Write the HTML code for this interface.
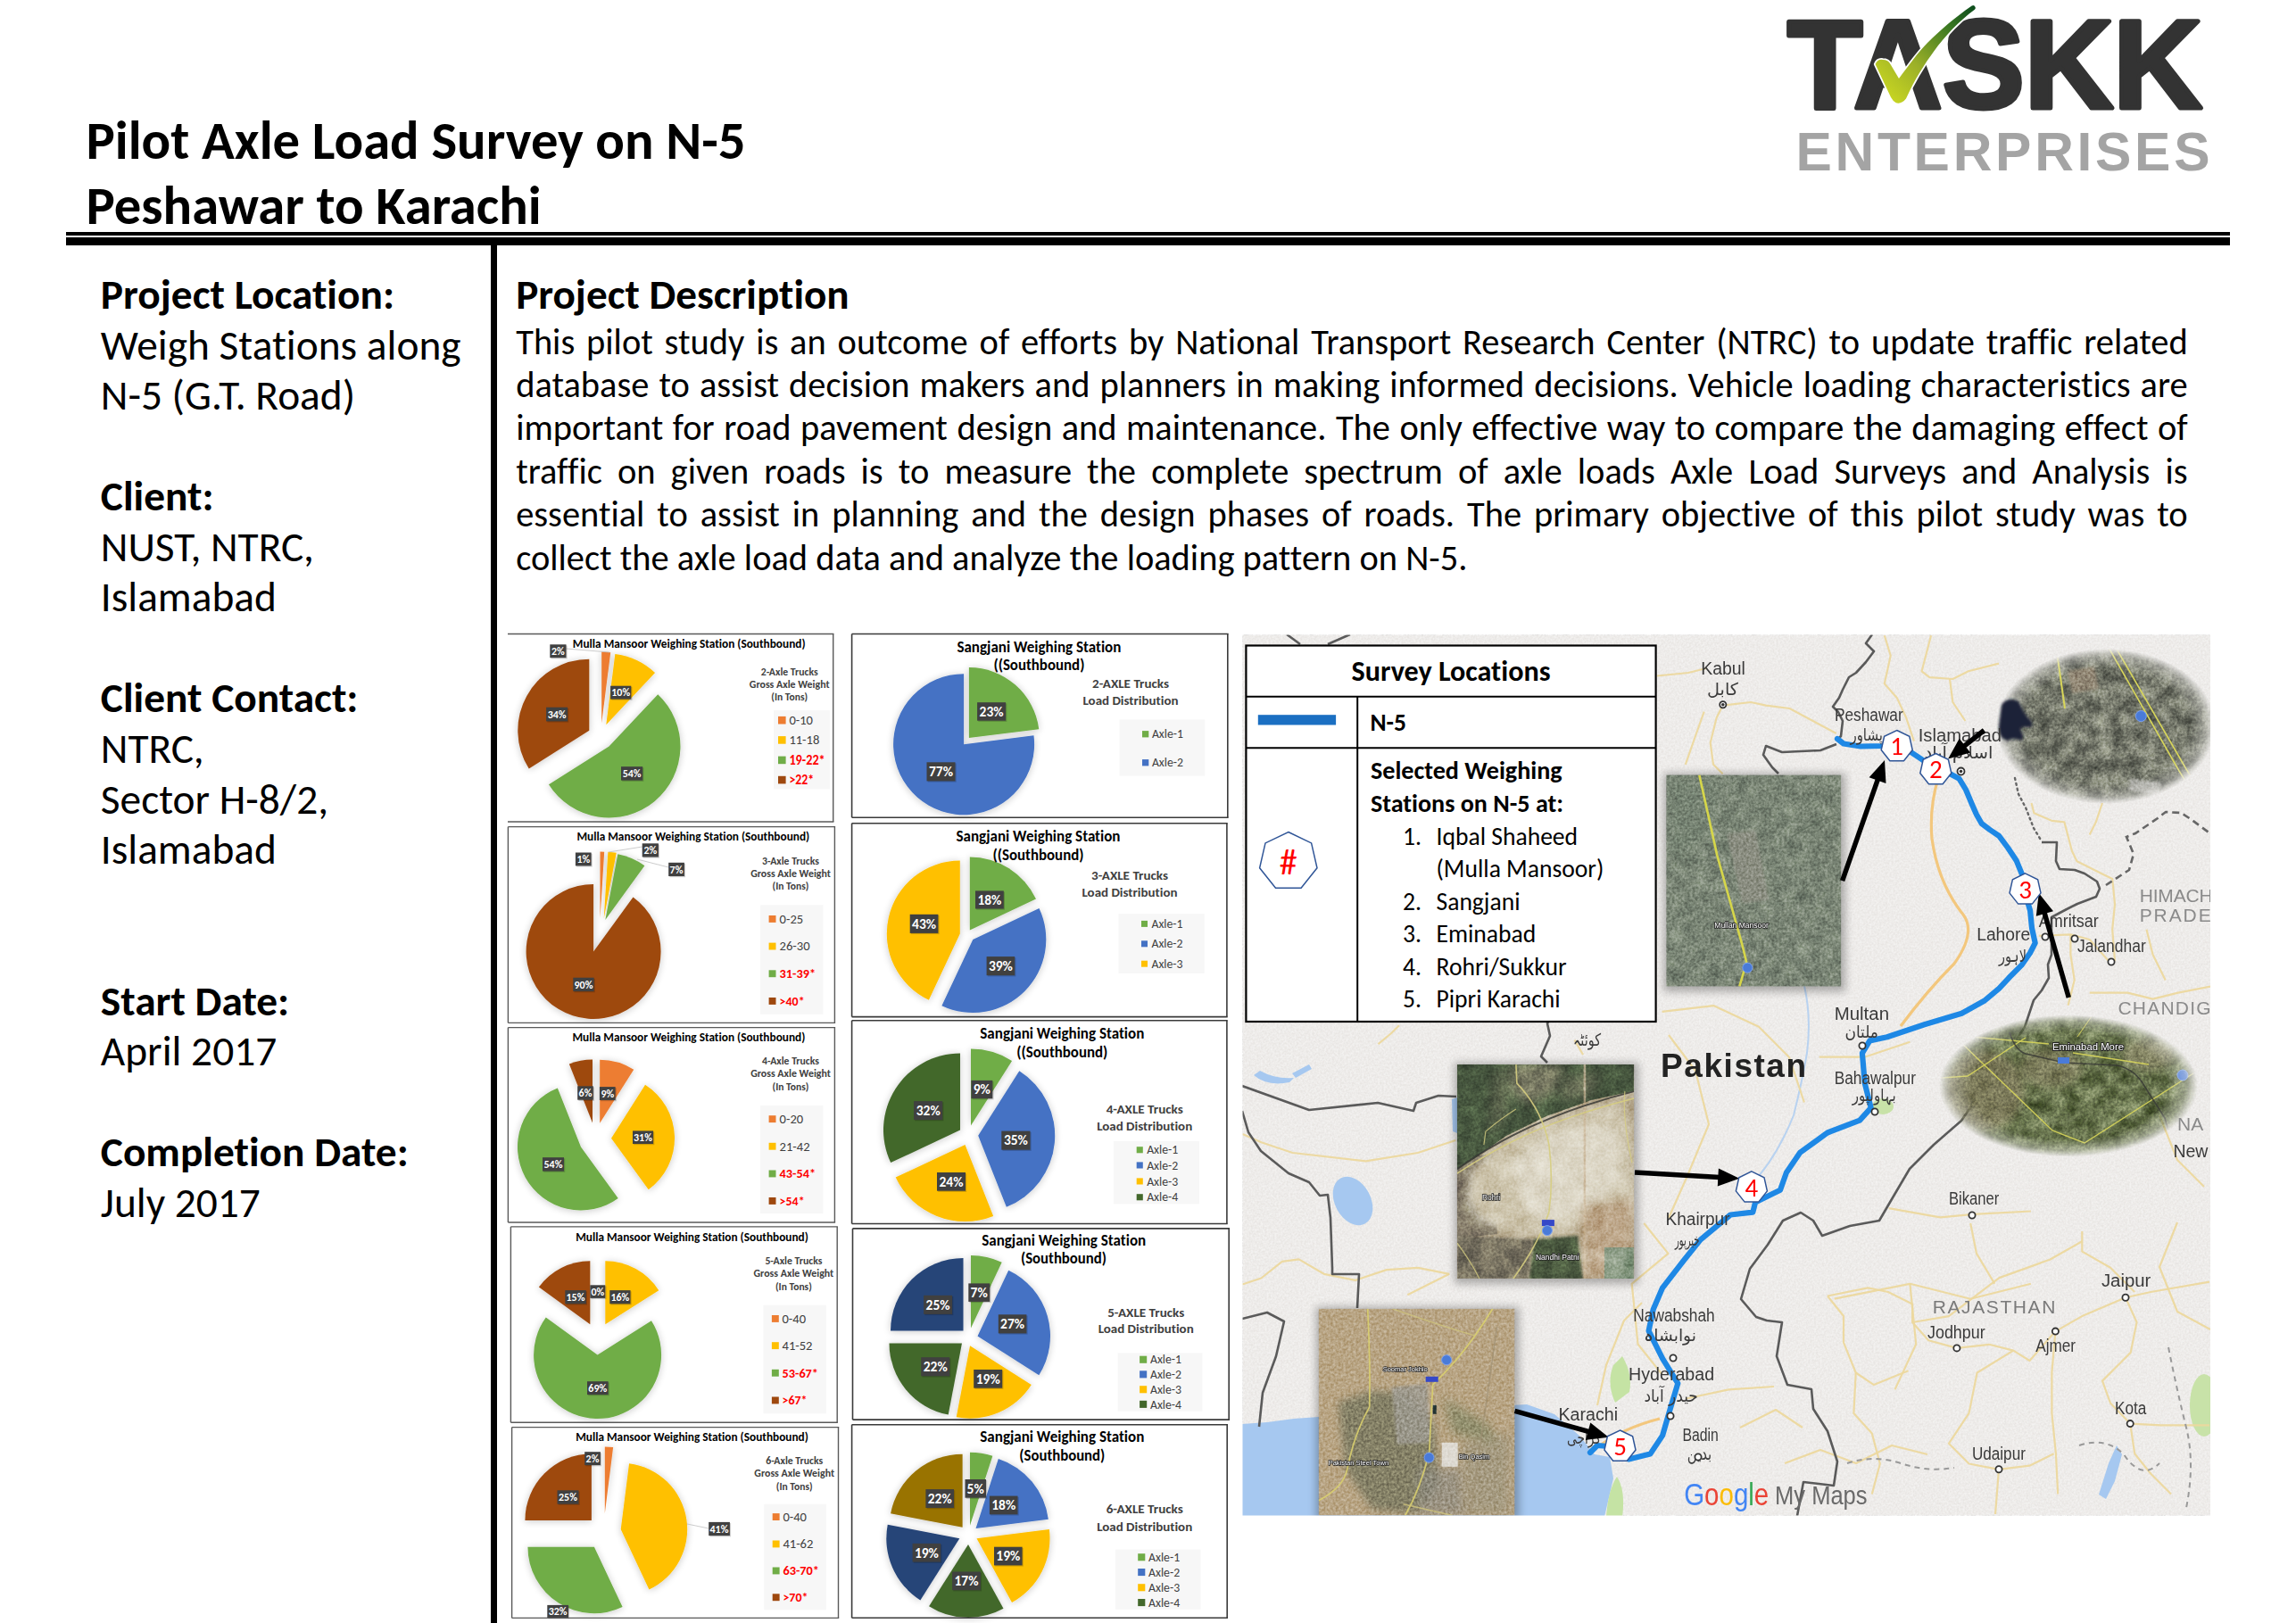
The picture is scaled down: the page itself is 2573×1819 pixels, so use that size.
<!DOCTYPE html><html><head><meta charset="utf-8"><title>Pilot Axle Load Survey on N-5</title>
<style>
html,body{margin:0;padding:0;background:#fff;}
body{width:2573px;height:1819px;position:relative;overflow:hidden;}
.t{position:absolute;white-space:nowrap;font-family:Carlito, 'Liberation Sans', sans-serif;line-height:1;color:#000;font-variant-ligatures:none;font-feature-settings:'liga' 0,'clig' 0;}
text{font-variant-ligatures:none;font-feature-settings:'liga' 0,'clig' 0;}
</style></head><body>
<svg width="2573" height="1819" viewBox="0 0 2573 1819" style="position:absolute;left:0;top:0">
<defs><filter id="pieSh" x="-20%" y="-20%" width="140%" height="140%"><feGaussianBlur in="SourceAlpha" stdDeviation="4"></feGaussianBlur><feOffset dx="0" dy="1"></feOffset><feComponentTransfer><feFuncA type="linear" slope="0.22"></feFuncA></feComponentTransfer><feMerge><feMergeNode></feMergeNode><feMergeNode in="SourceGraphic"></feMergeNode></feMerge></filter><filter id="blur6" x="-20%" y="-20%" width="140%" height="140%"><feGaussianBlur stdDeviation="5"></feGaussianBlur></filter><filter id="blur3" x="-20%" y="-20%" width="140%" height="140%"><feGaussianBlur stdDeviation="6"></feGaussianBlur></filter><filter id="fineN" x="0" y="0" width="100%" height="100%" color-interpolation-filters="sRGB"><feTurbulence type="fractalNoise" baseFrequency="0.35" numOctaves="2" seed="4"></feTurbulence><feColorMatrix type="matrix" values="1.6 0 0 0 -0.3  1.6 0 0 0 -0.3  1.6 0 0 0 -0.3  0 0 0 0 1"></feColorMatrix></filter><filter id="patchA" x="0" y="0" width="100%" height="100%" color-interpolation-filters="sRGB"><feTurbulence type="fractalNoise" baseFrequency="0.07" numOctaves="4" seed="7"></feTurbulence><feColorMatrix type="matrix" values="0.5 0 0 0 0.232  0.5 0 0 0 0.275  0.450 0 0 0 0.238  0 0 0 0 1"></feColorMatrix></filter><filter id="patchR" x="0" y="0" width="100%" height="100%" color-interpolation-filters="sRGB"><feTurbulence type="fractalNoise" baseFrequency="0.05" numOctaves="4" seed="13"></feTurbulence><feColorMatrix type="matrix" values="1.2 0 0 0 -0.098  1.2 0 0 0 -0.098  1.080 0 0 0 -0.038  0 0 0 0 1"></feColorMatrix></filter><filter id="patchB" x="0" y="0" width="100%" height="100%" color-interpolation-filters="sRGB"><feTurbulence type="fractalNoise" baseFrequency="0.06" numOctaves="4" seed="11"></feTurbulence><feColorMatrix type="matrix" values="0.7 0 0 0 0.113  0.7 0 0 0 0.125  0.630 0 0 0 0.109  0 0 0 0 1"></feColorMatrix></filter><filter id="patchC" x="0" y="0" width="100%" height="100%" color-interpolation-filters="sRGB"><feTurbulence type="fractalNoise" baseFrequency="0.06" numOctaves="4" seed="5"></feTurbulence><feColorMatrix type="matrix" values="0.65 0 0 0 0.083  0.65 0 0 0 0.130  0.585 0 0 0 0.013  0 0 0 0 1"></feColorMatrix></filter><filter id="blur1" x="-20%" y="-20%" width="140%" height="140%"><feGaussianBlur stdDeviation="1.5"></feGaussianBlur></filter><filter id="blur4" x="-20%" y="-20%" width="140%" height="140%"><feGaussianBlur stdDeviation="4"></feGaussianBlur></filter><filter id="bgN" x="0" y="0" width="100%" height="100%" color-interpolation-filters="sRGB"><feTurbulence type="fractalNoise" baseFrequency="0.45" numOctaves="2" seed="9"></feTurbulence><feColorMatrix type="matrix" values="1.8 0 0 0 -0.4  1.8 0 0 0 -0.4  1.8 0 0 0 -0.4  0 0 0 0 1"></feColorMatrix></filter><filter id="mapNoise" x="0" y="0" width="100%" height="100%"><feTurbulence type="fractalNoise" baseFrequency="0.6" numOctaves="1" seed="2"></feTurbulence><feColorMatrix type="matrix" values="0 0 0 0 1  0 0 0 0 1  0 0 0 0 1  0.6 0 0 0 -0.25"></feColorMatrix></filter></defs>
<rect x="74" y="260" width="2425" height="4" fill="#000"></rect>
<rect x="74" y="266" width="2425" height="9" fill="#000"></rect>
<rect x="550" y="270" width="7" height="1549" fill="#000"></rect>
<g>
<text x="2003" y="121" font-family="'Liberation Sans', Arial, sans-serif" font-size="140.3" font-weight="700" fill="#333" stroke="#333" stroke-width="5" stroke-linejoin="round" textLength="465" lengthAdjust="spacingAndGlyphs">TASKK</text>
<linearGradient id="chk" x1="0" y1="1" x2="1" y2="0"><stop offset="0" stop-color="#d4e020"></stop><stop offset="0.4" stop-color="#9cb028"></stop><stop offset="0.75" stop-color="#3d7a22"></stop><stop offset="1" stop-color="#0a4a1c"></stop></linearGradient>
<polygon points="2121,75.5 2136,75.5 2129,88" fill="#fff"></polygon>
<path d="M2101.6,72 Q2104,66 2110,67 Q2116,67 2118.5,72 L2128,88 C2140,72 2150,58 2160,48 C2175,33 2190,20 2209.7,6.4 Q2213,5 2213.8,8.5 Q2214,10 2212.9,10.8 C2195,24 2180,40 2166.5,58.4 C2158,70 2146,88 2136,110.5 Q2131,117 2124.8,115.3 Q2121,113 2119,109 Z" fill="url(#chk)" stroke="#fff" stroke-width="3.5" paint-order="stroke" stroke-linejoin="round"></path>
<text x="2012.5" y="191" font-family="'Liberation Sans', Arial, sans-serif" font-size="60.5" font-weight="700" fill="#a4a4a4" textLength="464" lengthAdjust="spacing">ENTERPRISES</text>
</g>
<rect x="569" y="710.5" width="364.70000000000005" height="210.5" fill="#fff"></rect>
<g filter="url(#pieSh)">
<path d="M674.20,810.50L674.20,730.50A80,80 0 0,1 684.23,731.13Z" fill="#ED7D31"></path>
<path d="M679.30,812.30L689.33,732.93A80,80 0 0,1 734.06,753.98Z" fill="#FFC000"></path>
<path d="M682.50,836.50L737.26,778.18A80,80 0 1,1 614.95,879.37Z" fill="#70AD47"></path>
<path d="M660.30,818.70L592.75,861.57A80,80 0 0,1 660.30,738.70Z" fill="#9E480E"></path>
</g>
<line x1="634.5" y1="727" x2="683" y2="731" stroke="#bfbfbf" stroke-width="0.8"></line>
<rect x="617.5" y="723.5" width="18.200000000000045" height="14.900000000000091" fill="#000" opacity="0.18"></rect>
<rect x="616.3" y="722.3" width="18.200000000000045" height="14.900000000000091" fill="#404040"></rect>
<text x="625.4" y="733.8" font-family="Carlito, 'Liberation Sans', sans-serif" font-size="12" font-weight="700" fill="#fff" text-anchor="middle" textLength="14.8" lengthAdjust="spacingAndGlyphs">2%</text>
<rect x="685.3000000000001" y="769.9000000000001" width="23.199999999999932" height="14.899999999999977" fill="#000" opacity="0.18"></rect>
<rect x="684.1" y="768.7" width="23.199999999999932" height="14.899999999999977" fill="#404040"></rect>
<text x="695.7" y="780.2" font-family="Carlito, 'Liberation Sans', sans-serif" font-size="12" font-weight="700" fill="#fff" text-anchor="middle" textLength="20.9" lengthAdjust="spacingAndGlyphs">10%</text>
<rect x="613.3000000000001" y="793.9000000000001" width="24.0" height="15.699999999999932" fill="#000" opacity="0.18"></rect>
<rect x="612.1" y="792.7" width="24.0" height="15.699999999999932" fill="#404040"></rect>
<text x="624.1" y="804.6" font-family="Carlito, 'Liberation Sans', sans-serif" font-size="12" font-weight="700" fill="#fff" text-anchor="middle" textLength="20.9" lengthAdjust="spacingAndGlyphs">34%</text>
<rect x="697.2" y="860.4000000000001" width="24.200000000000045" height="15.399999999999977" fill="#000" opacity="0.18"></rect>
<rect x="696" y="859.2" width="24.200000000000045" height="15.399999999999977" fill="#404040"></rect>
<text x="708.1" y="871.0" font-family="Carlito, 'Liberation Sans', sans-serif" font-size="12" font-weight="700" fill="#fff" text-anchor="middle" textLength="20.9" lengthAdjust="spacingAndGlyphs">54%</text>
<text x="772.2" y="726.1" font-family="Carlito, 'Liberation Sans', sans-serif" font-size="14.5" font-weight="700" fill="#000" text-anchor="middle" textLength="260.7" lengthAdjust="spacingAndGlyphs">Mulla Mansoor Weighing Station (Southbound)</text>
<text x="884.7" y="757.1" font-family="Carlito, 'Liberation Sans', sans-serif" font-size="12" font-weight="700" fill="#404040" text-anchor="middle" textLength="64.0" lengthAdjust="spacingAndGlyphs">2-Axle Trucks</text>
<text x="884.7" y="771.2" font-family="Carlito, 'Liberation Sans', sans-serif" font-size="12" font-weight="700" fill="#404040" text-anchor="middle" textLength="89.7" lengthAdjust="spacingAndGlyphs">Gross Axle Weight</text>
<text x="884.7" y="785.2" font-family="Carlito, 'Liberation Sans', sans-serif" font-size="12" font-weight="700" fill="#404040" text-anchor="middle" textLength="40.8" lengthAdjust="spacingAndGlyphs">(In Tons)</text>
<rect x="867" y="796" width="63" height="88.5" fill="#f7f7f7"></rect>
<rect x="872" y="802.9" width="8.600000000000023" height="8.600000000000023" fill="#ED7D31"></rect>
<text x="884.4" y="812.2" font-family="Carlito, 'Liberation Sans', sans-serif" font-size="15" fill="#404040" textLength="26.5" lengthAdjust="spacingAndGlyphs">0-10</text>
<rect x="872" y="825.1" width="8.600000000000023" height="8.600000000000023" fill="#FFC000"></rect>
<text x="884.4" y="834.4" font-family="Carlito, 'Liberation Sans', sans-serif" font-size="15" fill="#404040" textLength="33.9" lengthAdjust="spacingAndGlyphs">11-18</text>
<rect x="872" y="847.6" width="8.600000000000023" height="8.600000000000023" fill="#70AD47"></rect>
<text x="884.4" y="856.9" font-family="Carlito, 'Liberation Sans', sans-serif" font-size="15" font-weight="700" fill="#FF0000" textLength="40.3" lengthAdjust="spacingAndGlyphs">19-22*</text>
<rect x="872" y="869.8" width="8.600000000000023" height="8.600000000000023" fill="#9E480E"></rect>
<text x="884.4" y="879.1" font-family="Carlito, 'Liberation Sans', sans-serif" font-size="15" font-weight="700" fill="#FF0000" textLength="27.8" lengthAdjust="spacingAndGlyphs">&gt;22*</text>
<line x1="569" y1="710.5" x2="934.4000000000001" y2="710.5" stroke="#595959" stroke-width="1.4"></line>
<line x1="569" y1="921" x2="934.4000000000001" y2="921" stroke="#595959" stroke-width="1.4"></line>
<line x1="933.7" y1="710.5" x2="933.7" y2="921" stroke="#595959" stroke-width="1.4"></line>
<rect x="954.6" y="710.5" width="421.19999999999993" height="205.70000000000005" fill="#fff"></rect>
<g filter="url(#pieSh)">
<path d="M1085.90,827.10L1085.90,748.10A79,79 0 0,1 1164.28,817.20Z" fill="#70AD47"></path>
<path d="M1080.10,834.20L1158.48,824.30A79,79 0 1,1 1080.10,755.20Z" fill="#4472C4"></path>
</g>
<rect x="1096.3" y="788.4000000000001" width="32.0" height="20.5" fill="#000" opacity="0.18"></rect>
<rect x="1095.1" y="787.2" width="32.0" height="20.5" fill="#404040"></rect>
<text x="1111.1" y="802.7" font-family="Carlito, 'Liberation Sans', sans-serif" font-size="15.5" font-weight="700" fill="#fff" text-anchor="middle" textLength="27.0" lengthAdjust="spacingAndGlyphs">23%</text>
<rect x="1039.7" y="855.5" width="32.0" height="21.100000000000023" fill="#000" opacity="0.18"></rect>
<rect x="1038.5" y="854.3" width="32.0" height="21.100000000000023" fill="#404040"></rect>
<text x="1054.5" y="870.1" font-family="Carlito, 'Liberation Sans', sans-serif" font-size="15.5" font-weight="700" fill="#fff" text-anchor="middle" textLength="27.0" lengthAdjust="spacingAndGlyphs">77%</text>
<text x="1164.4" y="730.7" font-family="Carlito, 'Liberation Sans', sans-serif" font-size="17.5" font-weight="700" fill="#000" text-anchor="middle" textLength="184.0" lengthAdjust="spacingAndGlyphs">Sangjani Weighing Station</text>
<text x="1164.4" y="751.4" font-family="Carlito, 'Liberation Sans', sans-serif" font-size="17.5" font-weight="700" fill="#000" text-anchor="middle" textLength="102.0" lengthAdjust="spacingAndGlyphs">((Southbound)</text>
<text x="1267.0" y="771.3" font-family="Carlito, 'Liberation Sans', sans-serif" font-size="13.5" font-weight="700" fill="#404040" text-anchor="middle" textLength="86.0" lengthAdjust="spacingAndGlyphs">2-AXLE Trucks</text>
<text x="1267.0" y="789.7" font-family="Carlito, 'Liberation Sans', sans-serif" font-size="13.5" font-weight="700" fill="#404040" text-anchor="middle" textLength="107.0" lengthAdjust="spacingAndGlyphs">Load Distribution</text>
<rect x="1254.5" y="806.4" width="95.79999999999995" height="63.200000000000045" fill="#f7f7f7"></rect>
<rect x="1280" y="819.1" width="7.2999999999999545" height="7.2999999999999545" fill="#70AD47"></rect>
<text x="1290.9" y="827.3" font-family="Carlito, 'Liberation Sans', sans-serif" font-size="14" fill="#404040" textLength="35.0" lengthAdjust="spacingAndGlyphs">Axle-1</text>
<rect x="1280" y="851.1" width="7.2999999999999545" height="7.2999999999999545" fill="#4472C4"></rect>
<text x="1290.9" y="859.4" font-family="Carlito, 'Liberation Sans', sans-serif" font-size="14" fill="#404040" textLength="35.0" lengthAdjust="spacingAndGlyphs">Axle-2</text>
<line x1="954.6" y1="710.5" x2="1376.6" y2="710.5" stroke="#3a3a3a" stroke-width="1.6"></line>
<line x1="954.6" y1="916.2" x2="1376.6" y2="916.2" stroke="#3a3a3a" stroke-width="1.6"></line>
<line x1="954.6" y1="710.5" x2="954.6" y2="916.2" stroke="#3a3a3a" stroke-width="1.6"></line>
<line x1="1375.8" y1="710.5" x2="1375.8" y2="916.2" stroke="#3a3a3a" stroke-width="1.6"></line>
<rect x="569.4" y="926.6" width="366.0" height="219.80000000000007" fill="#fff"></rect>
<g filter="url(#pieSh)">
<path d="M672.50,1029.50L672.50,954.50A75,75 0 0,1 677.21,954.65Z" fill="#ED7D31"></path>
<path d="M676.70,1029.50L681.41,954.65A75,75 0 0,1 690.75,955.83Z" fill="#FFC000"></path>
<path d="M678.30,1031.00L692.35,957.33A75,75 0 0,1 722.38,970.32Z" fill="#70AD47"></path>
<path d="M665.10,1066.50L709.48,1005.42A75.5,75.5 0 1,1 665.10,991.00Z" fill="#9E480E"></path>
</g>
<line x1="719.7" y1="949" x2="682" y2="955" stroke="#bfbfbf" stroke-width="0.8"></line>
<line x1="749.2" y1="972" x2="714" y2="963" stroke="#bfbfbf" stroke-width="0.8"></line>
<rect x="646.1" y="956.7" width="17.700000000000045" height="14.899999999999977" fill="#000" opacity="0.18"></rect>
<rect x="644.9" y="955.5" width="17.700000000000045" height="14.899999999999977" fill="#404040"></rect>
<text x="653.8" y="967.0" font-family="Carlito, 'Liberation Sans', sans-serif" font-size="12" font-weight="700" fill="#fff" text-anchor="middle" textLength="14.8" lengthAdjust="spacingAndGlyphs">1%</text>
<rect x="720.9000000000001" y="946.5" width="18.199999999999932" height="15.200000000000045" fill="#000" opacity="0.18"></rect>
<rect x="719.7" y="945.3" width="18.199999999999932" height="15.200000000000045" fill="#404040"></rect>
<text x="728.8" y="957.0" font-family="Carlito, 'Liberation Sans', sans-serif" font-size="12" font-weight="700" fill="#fff" text-anchor="middle" textLength="14.8" lengthAdjust="spacingAndGlyphs">2%</text>
<rect x="750.4000000000001" y="968.0" width="17.699999999999932" height="15.200000000000045" fill="#000" opacity="0.18"></rect>
<rect x="749.2" y="966.8" width="17.699999999999932" height="15.200000000000045" fill="#404040"></rect>
<text x="758.0" y="978.5" font-family="Carlito, 'Liberation Sans', sans-serif" font-size="12" font-weight="700" fill="#fff" text-anchor="middle" textLength="14.8" lengthAdjust="spacingAndGlyphs">7%</text>
<rect x="643.5" y="1096.9" width="23.300000000000068" height="15.399999999999864" fill="#000" opacity="0.18"></rect>
<rect x="642.3" y="1095.7" width="23.300000000000068" height="15.399999999999864" fill="#404040"></rect>
<text x="654.0" y="1107.5" font-family="Carlito, 'Liberation Sans', sans-serif" font-size="12" font-weight="700" fill="#fff" text-anchor="middle" textLength="20.9" lengthAdjust="spacingAndGlyphs">90%</text>
<text x="776.8" y="941.8" font-family="Carlito, 'Liberation Sans', sans-serif" font-size="14.5" font-weight="700" fill="#000" text-anchor="middle" textLength="260.8" lengthAdjust="spacingAndGlyphs">Mulla Mansoor Weighing Station (Southbound)</text>
<text x="886.0" y="968.8" font-family="Carlito, 'Liberation Sans', sans-serif" font-size="12" font-weight="700" fill="#404040" text-anchor="middle" textLength="64.0" lengthAdjust="spacingAndGlyphs">3-Axle Trucks</text>
<text x="886.0" y="982.9" font-family="Carlito, 'Liberation Sans', sans-serif" font-size="12" font-weight="700" fill="#404040" text-anchor="middle" textLength="89.7" lengthAdjust="spacingAndGlyphs">Gross Axle Weight</text>
<text x="886.0" y="997.3" font-family="Carlito, 'Liberation Sans', sans-serif" font-size="12" font-weight="700" fill="#404040" text-anchor="middle" textLength="40.8" lengthAdjust="spacingAndGlyphs">(In Tons)</text>
<rect x="852.1" y="1014.3" width="70.39999999999998" height="122.5" fill="#f7f7f7"></rect>
<rect x="861.6" y="1026.0" width="7.899999999999977" height="7.899999999999977" fill="#ED7D31"></rect>
<text x="873.6" y="1034.8" font-family="Carlito, 'Liberation Sans', sans-serif" font-size="14.5" fill="#404040" textLength="26.5" lengthAdjust="spacingAndGlyphs">0-25</text>
<rect x="861.6" y="1056.6" width="7.899999999999977" height="7.899999999999977" fill="#FFC000"></rect>
<text x="873.6" y="1065.4" font-family="Carlito, 'Liberation Sans', sans-serif" font-size="14.5" fill="#404040" textLength="34.0" lengthAdjust="spacingAndGlyphs">26-30</text>
<rect x="861.6" y="1087.3" width="7.899999999999977" height="7.899999999999977" fill="#70AD47"></rect>
<text x="873.6" y="1096.1" font-family="Carlito, 'Liberation Sans', sans-serif" font-size="14.5" font-weight="700" fill="#FF0000" textLength="40.5" lengthAdjust="spacingAndGlyphs">31-39*</text>
<rect x="861.6" y="1118.0" width="7.899999999999977" height="7.899999999999977" fill="#9E480E"></rect>
<text x="873.6" y="1126.7" font-family="Carlito, 'Liberation Sans', sans-serif" font-size="14.5" font-weight="700" fill="#FF0000" textLength="28.0" lengthAdjust="spacingAndGlyphs">&gt;40*</text>
<line x1="569.4" y1="926.6" x2="936.1" y2="926.6" stroke="#595959" stroke-width="1.4"></line>
<line x1="569.4" y1="1146.4" x2="936.1" y2="1146.4" stroke="#595959" stroke-width="1.4"></line>
<line x1="569.4" y1="926.6" x2="569.4" y2="1146.4" stroke="#595959" stroke-width="1.4"></line>
<line x1="935.4" y1="926.6" x2="935.4" y2="1146.4" stroke="#595959" stroke-width="1.4"></line>
<rect x="954.6" y="922.7" width="420.30000000000007" height="216.89999999999986" fill="#fff"></rect>
<g filter="url(#pieSh)">
<path d="M1086.80,1042.40L1086.80,960.40A82,82 0 0,1 1161.00,1007.49Z" fill="#70AD47"></path>
<path d="M1090.30,1053.00L1164.50,1018.09A82,82 0 0,1 1055.39,1127.20Z" fill="#4472C4"></path>
<path d="M1075.80,1046.50L1040.89,1120.70A82,82 0 0,1 1075.80,964.50Z" fill="#FFC000"></path>
</g>
<rect x="1094.2" y="999.6" width="31.799999999999955" height="20.100000000000023" fill="#000" opacity="0.18"></rect>
<rect x="1093" y="998.4" width="31.799999999999955" height="20.100000000000023" fill="#404040"></rect>
<text x="1108.9" y="1013.7" font-family="Carlito, 'Liberation Sans', sans-serif" font-size="15.5" font-weight="700" fill="#fff" text-anchor="middle" textLength="27.0" lengthAdjust="spacingAndGlyphs">18%</text>
<rect x="1020.9000000000001" y="1026.0" width="31.700000000000045" height="21.100000000000136" fill="#000" opacity="0.18"></rect>
<rect x="1019.7" y="1024.8" width="31.700000000000045" height="21.100000000000136" fill="#404040"></rect>
<text x="1035.6" y="1040.6" font-family="Carlito, 'Liberation Sans', sans-serif" font-size="15.5" font-weight="700" fill="#fff" text-anchor="middle" textLength="27.0" lengthAdjust="spacingAndGlyphs">43%</text>
<rect x="1106.8" y="1073.3" width="31.600000000000136" height="21.100000000000136" fill="#000" opacity="0.18"></rect>
<rect x="1105.6" y="1072.1" width="31.600000000000136" height="21.100000000000136" fill="#404040"></rect>
<text x="1121.4" y="1087.9" font-family="Carlito, 'Liberation Sans', sans-serif" font-size="15.5" font-weight="700" fill="#fff" text-anchor="middle" textLength="27.0" lengthAdjust="spacingAndGlyphs">39%</text>
<text x="1163.5" y="943.2" font-family="Carlito, 'Liberation Sans', sans-serif" font-size="17.5" font-weight="700" fill="#000" text-anchor="middle" textLength="184.0" lengthAdjust="spacingAndGlyphs">Sangjani Weighing Station</text>
<text x="1163.5" y="963.9" font-family="Carlito, 'Liberation Sans', sans-serif" font-size="17.5" font-weight="700" fill="#000" text-anchor="middle" textLength="102.0" lengthAdjust="spacingAndGlyphs">((Southbound)</text>
<text x="1266.0" y="986.3" font-family="Carlito, 'Liberation Sans', sans-serif" font-size="13.5" font-weight="700" fill="#404040" text-anchor="middle" textLength="86.0" lengthAdjust="spacingAndGlyphs">3-AXLE Trucks</text>
<text x="1266.0" y="1004.5" font-family="Carlito, 'Liberation Sans', sans-serif" font-size="13.5" font-weight="700" fill="#404040" text-anchor="middle" textLength="107.0" lengthAdjust="spacingAndGlyphs">Load Distribution</text>
<rect x="1253.5" y="1024.2" width="96.20000000000005" height="66.70000000000005" fill="#f7f7f7"></rect>
<rect x="1279" y="1031.9" width="7" height="7" fill="#70AD47"></rect>
<text x="1290.5" y="1040.0" font-family="Carlito, 'Liberation Sans', sans-serif" font-size="14" fill="#404040" textLength="35.0" lengthAdjust="spacingAndGlyphs">Axle-1</text>
<rect x="1279" y="1054.3" width="7" height="7" fill="#4472C4"></rect>
<text x="1290.5" y="1062.4" font-family="Carlito, 'Liberation Sans', sans-serif" font-size="14" fill="#404040" textLength="35.0" lengthAdjust="spacingAndGlyphs">Axle-2</text>
<rect x="1279" y="1076.7" width="7" height="7" fill="#FFC000"></rect>
<text x="1290.5" y="1084.8" font-family="Carlito, 'Liberation Sans', sans-serif" font-size="14" fill="#404040" textLength="35.0" lengthAdjust="spacingAndGlyphs">Axle-3</text>
<line x1="954.6" y1="922.7" x2="1375.7" y2="922.7" stroke="#3a3a3a" stroke-width="1.6"></line>
<line x1="954.6" y1="1139.6" x2="1375.7" y2="1139.6" stroke="#3a3a3a" stroke-width="1.6"></line>
<line x1="954.6" y1="922.7" x2="954.6" y2="1139.6" stroke="#3a3a3a" stroke-width="1.6"></line>
<line x1="1374.9" y1="922.7" x2="1374.9" y2="1139.6" stroke="#3a3a3a" stroke-width="1.6"></line>
<rect x="569.4" y="1151.6" width="366.0" height="218.4000000000001" fill="#fff"></rect>
<g filter="url(#pieSh)">
<path d="M672.20,1258.70L672.20,1187.70A71,71 0 0,1 710.24,1198.75Z" fill="#ED7D31"></path>
<path d="M685.00,1275.80L723.04,1215.85A71,71 0 0,1 726.73,1333.24Z" fill="#FFC000"></path>
<path d="M651.00,1285.50L692.73,1342.94A71,71 0 1,1 624.86,1219.49Z" fill="#70AD47"></path>
<path d="M664.00,1258.50L637.86,1192.49A71,71 0 0,1 664.00,1187.50Z" fill="#9E480E"></path>
</g>
<rect x="648.4000000000001" y="1218.5" width="17.59999999999991" height="15.400000000000091" fill="#000" opacity="0.18"></rect>
<rect x="647.2" y="1217.3" width="17.59999999999991" height="15.400000000000091" fill="#404040"></rect>
<text x="656.0" y="1229.1" font-family="Carlito, 'Liberation Sans', sans-serif" font-size="12" font-weight="700" fill="#fff" text-anchor="middle" textLength="14.8" lengthAdjust="spacingAndGlyphs">6%</text>
<rect x="673.1" y="1219.3" width="17.700000000000045" height="14.900000000000091" fill="#000" opacity="0.18"></rect>
<rect x="671.9" y="1218.1" width="17.700000000000045" height="14.900000000000091" fill="#404040"></rect>
<text x="680.8" y="1229.6" font-family="Carlito, 'Liberation Sans', sans-serif" font-size="12" font-weight="700" fill="#fff" text-anchor="middle" textLength="14.8" lengthAdjust="spacingAndGlyphs">9%</text>
<rect x="710.2" y="1268.6000000000001" width="23.100000000000023" height="14.599999999999909" fill="#000" opacity="0.18"></rect>
<rect x="709" y="1267.4" width="23.100000000000023" height="14.599999999999909" fill="#404040"></rect>
<text x="720.5" y="1278.8" font-family="Carlito, 'Liberation Sans', sans-serif" font-size="12" font-weight="700" fill="#fff" text-anchor="middle" textLength="20.9" lengthAdjust="spacingAndGlyphs">31%</text>
<rect x="609.2" y="1298.4" width="24" height="15.399999999999864" fill="#000" opacity="0.18"></rect>
<rect x="608" y="1297.2" width="24" height="15.399999999999864" fill="#404040"></rect>
<text x="620.0" y="1309.0" font-family="Carlito, 'Liberation Sans', sans-serif" font-size="12" font-weight="700" fill="#fff" text-anchor="middle" textLength="20.9" lengthAdjust="spacingAndGlyphs">54%</text>
<text x="771.9" y="1166.8" font-family="Carlito, 'Liberation Sans', sans-serif" font-size="14.5" font-weight="700" fill="#000" text-anchor="middle" textLength="260.9" lengthAdjust="spacingAndGlyphs">Mulla Mansoor Weighing Station (Southbound)</text>
<text x="886.0" y="1193.3" font-family="Carlito, 'Liberation Sans', sans-serif" font-size="12" font-weight="700" fill="#404040" text-anchor="middle" textLength="64.0" lengthAdjust="spacingAndGlyphs">4-Axle Trucks</text>
<text x="886.0" y="1207.4" font-family="Carlito, 'Liberation Sans', sans-serif" font-size="12" font-weight="700" fill="#404040" text-anchor="middle" textLength="89.7" lengthAdjust="spacingAndGlyphs">Gross Axle Weight</text>
<text x="886.0" y="1221.8" font-family="Carlito, 'Liberation Sans', sans-serif" font-size="12" font-weight="700" fill="#404040" text-anchor="middle" textLength="40.8" lengthAdjust="spacingAndGlyphs">(In Tons)</text>
<rect x="852.1" y="1239" width="70.39999999999998" height="121.09999999999991" fill="#f7f7f7"></rect>
<rect x="861.6" y="1250.2" width="7.899999999999977" height="7.899999999999977" fill="#ED7D31"></rect>
<text x="873.6" y="1259.0" font-family="Carlito, 'Liberation Sans', sans-serif" font-size="14.5" fill="#404040" textLength="26.5" lengthAdjust="spacingAndGlyphs">0-20</text>
<rect x="861.6" y="1280.8" width="7.899999999999977" height="7.899999999999977" fill="#FFC000"></rect>
<text x="873.6" y="1289.6" font-family="Carlito, 'Liberation Sans', sans-serif" font-size="14.5" fill="#404040" textLength="34.0" lengthAdjust="spacingAndGlyphs">21-42</text>
<rect x="861.6" y="1311.5" width="7.899999999999977" height="7.899999999999977" fill="#70AD47"></rect>
<text x="873.6" y="1320.2" font-family="Carlito, 'Liberation Sans', sans-serif" font-size="14.5" font-weight="700" fill="#FF0000" textLength="40.5" lengthAdjust="spacingAndGlyphs">43-54*</text>
<rect x="861.6" y="1342.0" width="7.899999999999977" height="7.899999999999977" fill="#9E480E"></rect>
<text x="873.6" y="1350.8" font-family="Carlito, 'Liberation Sans', sans-serif" font-size="14.5" font-weight="700" fill="#FF0000" textLength="28.0" lengthAdjust="spacingAndGlyphs">&gt;54*</text>
<line x1="569.4" y1="1151.6" x2="936.1" y2="1151.6" stroke="#595959" stroke-width="1.4"></line>
<line x1="569.4" y1="1370" x2="936.1" y2="1370" stroke="#595959" stroke-width="1.4"></line>
<line x1="569.4" y1="1151.6" x2="569.4" y2="1370" stroke="#595959" stroke-width="1.4"></line>
<line x1="935.4" y1="1151.6" x2="935.4" y2="1370" stroke="#595959" stroke-width="1.4"></line>
<rect x="954.6" y="1143.8" width="420.30000000000007" height="227.70000000000005" fill="#fff"></rect>
<g filter="url(#pieSh)">
<path d="M1088.00,1261.50L1088.00,1175.50A86,86 0 0,1 1134.08,1188.89Z" fill="#70AD47"></path>
<path d="M1096.20,1272.80L1142.28,1200.19A86,86 0 0,1 1127.86,1352.76Z" fill="#4472C4"></path>
<path d="M1081.50,1283.00L1113.16,1362.96A86,86 0 0,1 1003.68,1319.62Z" fill="#FFC000"></path>
<path d="M1076.00,1266.50L998.18,1303.12A86,86 0 0,1 1076.00,1180.50Z" fill="#43682B"></path>
</g>
<rect x="1089.6000000000001" y="1212.1000000000001" width="23.899999999999864" height="20.299999999999955" fill="#000" opacity="0.18"></rect>
<rect x="1088.4" y="1210.9" width="23.899999999999864" height="20.299999999999955" fill="#404040"></rect>
<text x="1100.3" y="1226.3" font-family="Carlito, 'Liberation Sans', sans-serif" font-size="15.5" font-weight="700" fill="#fff" text-anchor="middle" textLength="19.2" lengthAdjust="spacingAndGlyphs">9%</text>
<rect x="1025.3" y="1235.3" width="32.100000000000136" height="21.0" fill="#000" opacity="0.18"></rect>
<rect x="1024.1" y="1234.1" width="32.100000000000136" height="21.0" fill="#404040"></rect>
<text x="1040.2" y="1249.9" font-family="Carlito, 'Liberation Sans', sans-serif" font-size="15.5" font-weight="700" fill="#fff" text-anchor="middle" textLength="27.0" lengthAdjust="spacingAndGlyphs">32%</text>
<rect x="1123.5" y="1268.8" width="32.200000000000045" height="21.100000000000136" fill="#000" opacity="0.18"></rect>
<rect x="1122.3" y="1267.6" width="32.200000000000045" height="21.100000000000136" fill="#404040"></rect>
<text x="1138.4" y="1283.4" font-family="Carlito, 'Liberation Sans', sans-serif" font-size="15.5" font-weight="700" fill="#fff" text-anchor="middle" textLength="27.0" lengthAdjust="spacingAndGlyphs">35%</text>
<rect x="1051.2" y="1315.2" width="32" height="20.700000000000045" fill="#000" opacity="0.18"></rect>
<rect x="1050" y="1314" width="32" height="20.700000000000045" fill="#404040"></rect>
<text x="1066.0" y="1329.6" font-family="Carlito, 'Liberation Sans', sans-serif" font-size="15.5" font-weight="700" fill="#fff" text-anchor="middle" textLength="27.0" lengthAdjust="spacingAndGlyphs">24%</text>
<text x="1190.3" y="1164.1" font-family="Carlito, 'Liberation Sans', sans-serif" font-size="17.5" font-weight="700" fill="#000" text-anchor="middle" textLength="184.0" lengthAdjust="spacingAndGlyphs">Sangjani Weighing Station</text>
<text x="1190.3" y="1184.6" font-family="Carlito, 'Liberation Sans', sans-serif" font-size="17.5" font-weight="700" fill="#000" text-anchor="middle" textLength="102.0" lengthAdjust="spacingAndGlyphs">((Southbound)</text>
<text x="1282.7" y="1248.4" font-family="Carlito, 'Liberation Sans', sans-serif" font-size="13.5" font-weight="700" fill="#404040" text-anchor="middle" textLength="86.0" lengthAdjust="spacingAndGlyphs">4-AXLE Trucks</text>
<text x="1282.7" y="1267.0" font-family="Carlito, 'Liberation Sans', sans-serif" font-size="13.5" font-weight="700" fill="#404040" text-anchor="middle" textLength="107.0" lengthAdjust="spacingAndGlyphs">Load Distribution</text>
<rect x="1247.8" y="1279.1" width="96.20000000000005" height="70.30000000000018" fill="#f7f7f7"></rect>
<rect x="1273.7" y="1285.2" width="7.099999999999909" height="7.099999999999909" fill="#70AD47"></rect>
<text x="1285.2" y="1293.3" font-family="Carlito, 'Liberation Sans', sans-serif" font-size="14" fill="#404040" textLength="35.0" lengthAdjust="spacingAndGlyphs">Axle-1</text>
<rect x="1273.7" y="1302.4" width="7.099999999999909" height="7.099999999999909" fill="#4472C4"></rect>
<text x="1285.2" y="1310.5" font-family="Carlito, 'Liberation Sans', sans-serif" font-size="14" fill="#404040" textLength="35.0" lengthAdjust="spacingAndGlyphs">Axle-2</text>
<rect x="1273.7" y="1320.4" width="7.099999999999909" height="7.099999999999909" fill="#FFC000"></rect>
<text x="1285.2" y="1328.5" font-family="Carlito, 'Liberation Sans', sans-serif" font-size="14" fill="#404040" textLength="35.0" lengthAdjust="spacingAndGlyphs">Axle-3</text>
<rect x="1273.7" y="1338.2" width="7.099999999999909" height="7.099999999999909" fill="#43682B"></rect>
<text x="1285.2" y="1346.4" font-family="Carlito, 'Liberation Sans', sans-serif" font-size="14" fill="#404040" textLength="35.0" lengthAdjust="spacingAndGlyphs">Axle-4</text>
<line x1="954.6" y1="1143.8" x2="1375.7" y2="1143.8" stroke="#3a3a3a" stroke-width="1.6"></line>
<line x1="954.6" y1="1371.5" x2="1375.7" y2="1371.5" stroke="#3a3a3a" stroke-width="1.6"></line>
<line x1="954.6" y1="1143.8" x2="954.6" y2="1371.5" stroke="#3a3a3a" stroke-width="1.6"></line>
<line x1="1374.9" y1="1143.8" x2="1374.9" y2="1371.5" stroke="#3a3a3a" stroke-width="1.6"></line>
<rect x="572.4" y="1374.9" width="365.80000000000007" height="219.29999999999995" fill="#fff"></rect>
<g filter="url(#pieSh)">
<path d="M678.30,1484.20L678.30,1413.20A71,71 0 0,1 738.25,1446.16Z" fill="#FFC000"></path>
<path d="M669.60,1518.50L729.97,1480.19A71.5,71.5 0 1,1 611.76,1476.47Z" fill="#70AD47"></path>
<path d="M661.30,1484.20L603.86,1442.47A71,71 0 0,1 661.30,1413.20Z" fill="#9E480E"></path>
</g>
<rect x="634.5" y="1447.3" width="23.5" height="15.200000000000045" fill="#000" opacity="0.18"></rect>
<rect x="633.3" y="1446.1" width="23.5" height="15.200000000000045" fill="#404040"></rect>
<text x="645.0" y="1457.8" font-family="Carlito, 'Liberation Sans', sans-serif" font-size="12" font-weight="700" fill="#fff" text-anchor="middle" textLength="20.9" lengthAdjust="spacingAndGlyphs">15%</text>
<rect x="662.5" y="1441.5" width="17.0" height="14.600000000000136" fill="#000" opacity="0.18"></rect>
<rect x="661.3" y="1440.3" width="17.0" height="14.600000000000136" fill="#404040"></rect>
<text x="669.8" y="1451.7" font-family="Carlito, 'Liberation Sans', sans-serif" font-size="12" font-weight="700" fill="#fff" text-anchor="middle" textLength="14.8" lengthAdjust="spacingAndGlyphs">0%</text>
<rect x="684.5" y="1447.3" width="23.200000000000045" height="15.200000000000045" fill="#000" opacity="0.18"></rect>
<rect x="683.3" y="1446.1" width="23.200000000000045" height="15.200000000000045" fill="#404040"></rect>
<text x="694.9" y="1457.8" font-family="Carlito, 'Liberation Sans', sans-serif" font-size="12" font-weight="700" fill="#fff" text-anchor="middle" textLength="20.9" lengthAdjust="spacingAndGlyphs">16%</text>
<rect x="659.2" y="1549.4" width="23.600000000000023" height="14.899999999999864" fill="#000" opacity="0.18"></rect>
<rect x="658" y="1548.2" width="23.600000000000023" height="14.899999999999864" fill="#404040"></rect>
<text x="669.8" y="1559.7" font-family="Carlito, 'Liberation Sans', sans-serif" font-size="12" font-weight="700" fill="#fff" text-anchor="middle" textLength="20.9" lengthAdjust="spacingAndGlyphs">69%</text>
<text x="775.5" y="1390.7" font-family="Carlito, 'Liberation Sans', sans-serif" font-size="14.5" font-weight="700" fill="#000" text-anchor="middle" textLength="260.7" lengthAdjust="spacingAndGlyphs">Mulla Mansoor Weighing Station (Southbound)</text>
<text x="889.4" y="1417.1" font-family="Carlito, 'Liberation Sans', sans-serif" font-size="12" font-weight="700" fill="#404040" text-anchor="middle" textLength="64.0" lengthAdjust="spacingAndGlyphs">5-Axle Trucks</text>
<text x="889.4" y="1431.2" font-family="Carlito, 'Liberation Sans', sans-serif" font-size="12" font-weight="700" fill="#404040" text-anchor="middle" textLength="89.7" lengthAdjust="spacingAndGlyphs">Gross Axle Weight</text>
<text x="889.4" y="1445.6" font-family="Carlito, 'Liberation Sans', sans-serif" font-size="12" font-weight="700" fill="#404040" text-anchor="middle" textLength="40.8" lengthAdjust="spacingAndGlyphs">(In Tons)</text>
<rect x="855.4" y="1462.7" width="70.39999999999998" height="121.59999999999991" fill="#f7f7f7"></rect>
<rect x="864.9" y="1474.0" width="7.899999999999977" height="7.899999999999977" fill="#ED7D31"></rect>
<text x="876.5" y="1482.7" font-family="Carlito, 'Liberation Sans', sans-serif" font-size="14.5" fill="#404040" textLength="26.5" lengthAdjust="spacingAndGlyphs">0-40</text>
<rect x="864.9" y="1504.2" width="7.899999999999977" height="7.899999999999977" fill="#FFC000"></rect>
<text x="876.5" y="1513.0" font-family="Carlito, 'Liberation Sans', sans-serif" font-size="14.5" fill="#404040" textLength="34.0" lengthAdjust="spacingAndGlyphs">41-52</text>
<rect x="864.9" y="1534.8" width="7.899999999999977" height="7.899999999999977" fill="#70AD47"></rect>
<text x="876.5" y="1543.6" font-family="Carlito, 'Liberation Sans', sans-serif" font-size="14.5" font-weight="700" fill="#FF0000" textLength="40.5" lengthAdjust="spacingAndGlyphs">53-67*</text>
<rect x="864.9" y="1565.5" width="7.899999999999977" height="7.899999999999977" fill="#9E480E"></rect>
<text x="876.5" y="1574.2" font-family="Carlito, 'Liberation Sans', sans-serif" font-size="14.5" font-weight="700" fill="#FF0000" textLength="28.0" lengthAdjust="spacingAndGlyphs">&gt;67*</text>
<line x1="572.4" y1="1374.9" x2="938.9000000000001" y2="1374.9" stroke="#595959" stroke-width="1.4"></line>
<line x1="572.4" y1="1594.2" x2="938.9000000000001" y2="1594.2" stroke="#595959" stroke-width="1.4"></line>
<line x1="572.4" y1="1374.9" x2="572.4" y2="1594.2" stroke="#595959" stroke-width="1.4"></line>
<line x1="938.2" y1="1374.9" x2="938.2" y2="1594.2" stroke="#595959" stroke-width="1.4"></line>
<rect x="955.5" y="1376.9" width="421.70000000000005" height="214.19999999999982" fill="#fff"></rect>
<g filter="url(#pieSh)">
<path d="M1088.00,1488.50L1088.00,1407.00A81.5,81.5 0 0,1 1122.70,1414.76Z" fill="#70AD47"></path>
<path d="M1095.50,1497.50L1130.20,1423.76A81.5,81.5 0 0,1 1164.31,1541.17Z" fill="#4472C4"></path>
<path d="M1087.00,1508.30L1155.81,1551.97A81.5,81.5 0 0,1 1071.73,1588.36Z" fill="#FFC000"></path>
<path d="M1078.00,1505.50L1062.73,1585.56A81.5,81.5 0 0,1 996.50,1505.50Z" fill="#43682B"></path>
<path d="M1079.50,1491.50L998.00,1491.50A81.5,81.5 0 0,1 1079.50,1410.00Z" fill="#264478"></path>
</g>
<rect x="1086.5" y="1439.6000000000001" width="23.90000000000009" height="20.5" fill="#000" opacity="0.18"></rect>
<rect x="1085.3" y="1438.4" width="23.90000000000009" height="20.5" fill="#404040"></rect>
<text x="1097.2" y="1453.9" font-family="Carlito, 'Liberation Sans', sans-serif" font-size="15.5" font-weight="700" fill="#fff" text-anchor="middle" textLength="19.2" lengthAdjust="spacingAndGlyphs">7%</text>
<rect x="1036.3" y="1453.0" width="32.0" height="21.100000000000136" fill="#000" opacity="0.18"></rect>
<rect x="1035.1" y="1451.8" width="32.0" height="21.100000000000136" fill="#404040"></rect>
<text x="1051.1" y="1467.6" font-family="Carlito, 'Liberation Sans', sans-serif" font-size="15.5" font-weight="700" fill="#fff" text-anchor="middle" textLength="27.0" lengthAdjust="spacingAndGlyphs">25%</text>
<rect x="1120.0" y="1474.5" width="31.600000000000136" height="21.100000000000136" fill="#000" opacity="0.18"></rect>
<rect x="1118.8" y="1473.3" width="31.600000000000136" height="21.100000000000136" fill="#404040"></rect>
<text x="1134.6" y="1489.1" font-family="Carlito, 'Liberation Sans', sans-serif" font-size="15.5" font-weight="700" fill="#fff" text-anchor="middle" textLength="27.0" lengthAdjust="spacingAndGlyphs">27%</text>
<rect x="1033.4" y="1522.4" width="32.0" height="21.09999999999991" fill="#000" opacity="0.18"></rect>
<rect x="1032.2" y="1521.2" width="32.0" height="21.09999999999991" fill="#404040"></rect>
<text x="1048.2" y="1537.0" font-family="Carlito, 'Liberation Sans', sans-serif" font-size="15.5" font-weight="700" fill="#fff" text-anchor="middle" textLength="27.0" lengthAdjust="spacingAndGlyphs">22%</text>
<rect x="1092.4" y="1536.2" width="32.0" height="20.700000000000045" fill="#000" opacity="0.18"></rect>
<rect x="1091.2" y="1535" width="32.0" height="20.700000000000045" fill="#404040"></rect>
<text x="1107.2" y="1550.6" font-family="Carlito, 'Liberation Sans', sans-serif" font-size="15.5" font-weight="700" fill="#fff" text-anchor="middle" textLength="27.0" lengthAdjust="spacingAndGlyphs">19%</text>
<text x="1192.2" y="1396.0" font-family="Carlito, 'Liberation Sans', sans-serif" font-size="17.5" font-weight="700" fill="#000" text-anchor="middle" textLength="184.0" lengthAdjust="spacingAndGlyphs">Sangjani Weighing Station</text>
<text x="1192.0" y="1416.4" font-family="Carlito, 'Liberation Sans', sans-serif" font-size="17.5" font-weight="700" fill="#000" text-anchor="middle" textLength="96.0" lengthAdjust="spacingAndGlyphs">(Southbound)</text>
<text x="1284.2" y="1476.2" font-family="Carlito, 'Liberation Sans', sans-serif" font-size="13.5" font-weight="700" fill="#404040" text-anchor="middle" textLength="86.0" lengthAdjust="spacingAndGlyphs">5-AXLE Trucks</text>
<text x="1284.2" y="1494.4" font-family="Carlito, 'Liberation Sans', sans-serif" font-size="13.5" font-weight="700" fill="#404040" text-anchor="middle" textLength="107.0" lengthAdjust="spacingAndGlyphs">Load Distribution</text>
<rect x="1252.6" y="1516.4" width="94.80000000000018" height="65.19999999999982" fill="#f7f7f7"></rect>
<rect x="1277.1" y="1519.7" width="8.100000000000136" height="8.100000000000136" fill="#70AD47"></rect>
<text x="1289.0" y="1528.3" font-family="Carlito, 'Liberation Sans', sans-serif" font-size="14" fill="#404040" textLength="35.0" lengthAdjust="spacingAndGlyphs">Axle-1</text>
<rect x="1277.1" y="1536.3" width="8.100000000000136" height="8.100000000000136" fill="#4472C4"></rect>
<text x="1289.0" y="1545.0" font-family="Carlito, 'Liberation Sans', sans-serif" font-size="14" fill="#404040" textLength="35.0" lengthAdjust="spacingAndGlyphs">Axle-2</text>
<rect x="1277.1" y="1553.2" width="8.100000000000136" height="8.100000000000136" fill="#FFC000"></rect>
<text x="1289.0" y="1561.8" font-family="Carlito, 'Liberation Sans', sans-serif" font-size="14" fill="#404040" textLength="35.0" lengthAdjust="spacingAndGlyphs">Axle-3</text>
<rect x="1277.1" y="1569.8" width="8.100000000000136" height="8.100000000000136" fill="#43682B"></rect>
<text x="1289.0" y="1578.5" font-family="Carlito, 'Liberation Sans', sans-serif" font-size="14" fill="#404040" textLength="35.0" lengthAdjust="spacingAndGlyphs">Axle-4</text>
<line x1="955.5" y1="1376.9" x2="1378.0" y2="1376.9" stroke="#3a3a3a" stroke-width="1.6"></line>
<line x1="955.5" y1="1591.1" x2="1378.0" y2="1591.1" stroke="#3a3a3a" stroke-width="1.6"></line>
<line x1="955.5" y1="1376.9" x2="955.5" y2="1591.1" stroke="#3a3a3a" stroke-width="1.6"></line>
<line x1="1377.2" y1="1376.9" x2="1377.2" y2="1591.1" stroke="#3a3a3a" stroke-width="1.6"></line>
<rect x="573.6" y="1599.6" width="365.9" height="213.80000000000018" fill="#fff"></rect>
<g filter="url(#pieSh)">
<path d="M677.80,1696.00L677.80,1621.50A74.5,74.5 0 0,1 687.14,1622.09Z" fill="#ED7D31"></path>
<path d="M695.70,1714.10L705.04,1640.19A74.5,74.5 0 0,1 727.42,1781.51Z" fill="#FFC000"></path>
<path d="M665.90,1733.70L697.62,1801.11A74.5,74.5 0 0,1 591.40,1733.70Z" fill="#70AD47"></path>
<path d="M662.90,1703.90L588.40,1703.90A74.5,74.5 0 0,1 662.90,1629.40Z" fill="#9E480E"></path>
</g>
<line x1="770" y1="1708" x2="794.2" y2="1713" stroke="#bfbfbf" stroke-width="0.8"></line>
<rect x="656.4000000000001" y="1628.4" width="17.699999999999932" height="14.899999999999864" fill="#000" opacity="0.18"></rect>
<rect x="655.2" y="1627.2" width="17.699999999999932" height="14.899999999999864" fill="#404040"></rect>
<text x="664.0" y="1638.7" font-family="Carlito, 'Liberation Sans', sans-serif" font-size="12" font-weight="700" fill="#fff" text-anchor="middle" textLength="14.8" lengthAdjust="spacingAndGlyphs">2%</text>
<rect x="625.7" y="1671.5" width="24.0" height="15.400000000000091" fill="#000" opacity="0.18"></rect>
<rect x="624.5" y="1670.3" width="24.0" height="15.400000000000091" fill="#404040"></rect>
<text x="636.5" y="1682.1" font-family="Carlito, 'Liberation Sans', sans-serif" font-size="12" font-weight="700" fill="#fff" text-anchor="middle" textLength="20.9" lengthAdjust="spacingAndGlyphs">25%</text>
<rect x="795.4000000000001" y="1707.1000000000001" width="23.699999999999932" height="15.199999999999818" fill="#000" opacity="0.18"></rect>
<rect x="794.2" y="1705.9" width="23.699999999999932" height="15.199999999999818" fill="#404040"></rect>
<text x="806.0" y="1717.6" font-family="Carlito, 'Liberation Sans', sans-serif" font-size="12" font-weight="700" fill="#fff" text-anchor="middle" textLength="20.9" lengthAdjust="spacingAndGlyphs">41%</text>
<rect x="614.5" y="1800.1000000000001" width="23.700000000000045" height="14.5" fill="#000" opacity="0.18"></rect>
<rect x="613.3" y="1798.9" width="23.700000000000045" height="14.5" fill="#404040"></rect>
<text x="625.1" y="1810.2" font-family="Carlito, 'Liberation Sans', sans-serif" font-size="12" font-weight="700" fill="#fff" text-anchor="middle" textLength="20.9" lengthAdjust="spacingAndGlyphs">32%</text>
<text x="775.5" y="1614.8" font-family="Carlito, 'Liberation Sans', sans-serif" font-size="14.5" font-weight="700" fill="#000" text-anchor="middle" textLength="260.7" lengthAdjust="spacingAndGlyphs">Mulla Mansoor Weighing Station (Southbound)</text>
<text x="890.2" y="1641.0" font-family="Carlito, 'Liberation Sans', sans-serif" font-size="12" font-weight="700" fill="#404040" text-anchor="middle" textLength="64.0" lengthAdjust="spacingAndGlyphs">6-Axle Trucks</text>
<text x="890.2" y="1655.0" font-family="Carlito, 'Liberation Sans', sans-serif" font-size="12" font-weight="700" fill="#404040" text-anchor="middle" textLength="89.7" lengthAdjust="spacingAndGlyphs">Gross Axle Weight</text>
<text x="890.2" y="1669.8" font-family="Carlito, 'Liberation Sans', sans-serif" font-size="12" font-weight="700" fill="#404040" text-anchor="middle" textLength="40.8" lengthAdjust="spacingAndGlyphs">(In Tons)</text>
<rect x="856.3" y="1685.7" width="69.5" height="118.59999999999991" fill="#f7f7f7"></rect>
<rect x="865.7" y="1696.1" width="7.899999999999977" height="7.899999999999977" fill="#ED7D31"></rect>
<text x="877.4" y="1704.9" font-family="Carlito, 'Liberation Sans', sans-serif" font-size="14.5" fill="#404040" textLength="26.5" lengthAdjust="spacingAndGlyphs">0-40</text>
<rect x="865.7" y="1726.5" width="7.899999999999977" height="7.899999999999977" fill="#FFC000"></rect>
<text x="877.4" y="1735.2" font-family="Carlito, 'Liberation Sans', sans-serif" font-size="14.5" fill="#404040" textLength="34.0" lengthAdjust="spacingAndGlyphs">41-62</text>
<rect x="865.7" y="1756.5" width="7.899999999999977" height="7.899999999999977" fill="#70AD47"></rect>
<text x="877.4" y="1765.3" font-family="Carlito, 'Liberation Sans', sans-serif" font-size="14.5" font-weight="700" fill="#FF0000" textLength="40.5" lengthAdjust="spacingAndGlyphs">63-70*</text>
<rect x="865.7" y="1786.3" width="7.899999999999977" height="7.899999999999977" fill="#9E480E"></rect>
<text x="877.4" y="1795.1" font-family="Carlito, 'Liberation Sans', sans-serif" font-size="14.5" font-weight="700" fill="#FF0000" textLength="28.0" lengthAdjust="spacingAndGlyphs">&gt;70*</text>
<line x1="573.6" y1="1599.6" x2="940.2" y2="1599.6" stroke="#595959" stroke-width="1.4"></line>
<line x1="573.6" y1="1813.4" x2="940.2" y2="1813.4" stroke="#595959" stroke-width="1.4"></line>
<line x1="573.6" y1="1599.6" x2="573.6" y2="1813.4" stroke="#595959" stroke-width="1.4"></line>
<line x1="939.5" y1="1599.6" x2="939.5" y2="1813.4" stroke="#595959" stroke-width="1.4"></line>
<rect x="954.6" y="1596.7" width="420.6" height="216.5999999999999" fill="#fff"></rect>
<g filter="url(#pieSh)">
<path d="M1087.00,1709.80L1087.00,1627.80A82,82 0 0,1 1112.34,1631.81Z" fill="#70AD47"></path>
<path d="M1093.50,1713.00L1118.84,1635.01A82,82 0 0,1 1174.85,1702.72Z" fill="#4472C4"></path>
<path d="M1094.50,1724.20L1175.85,1713.92A82,82 0 0,1 1134.00,1796.06Z" fill="#FFC000"></path>
<path d="M1085.00,1730.90L1124.50,1802.76A82,82 0 0,1 1041.06,1800.13Z" fill="#43682B"></path>
<path d="M1075.30,1724.20L1031.36,1793.43A82,82 0 0,1 994.75,1708.83Z" fill="#264478"></path>
<path d="M1078.60,1711.70L998.05,1696.33A82,82 0 0,1 1078.60,1629.70Z" fill="#997300"></path>
</g>
<rect x="1082.7" y="1659.2" width="23.5" height="20.700000000000045" fill="#000" opacity="0.18"></rect>
<rect x="1081.5" y="1658" width="23.5" height="20.700000000000045" fill="#404040"></rect>
<text x="1093.2" y="1673.6" font-family="Carlito, 'Liberation Sans', sans-serif" font-size="15.5" font-weight="700" fill="#fff" text-anchor="middle" textLength="19.2" lengthAdjust="spacingAndGlyphs">5%</text>
<rect x="1038.6000000000001" y="1670.3" width="31.59999999999991" height="20.90000000000009" fill="#000" opacity="0.18"></rect>
<rect x="1037.4" y="1669.1" width="31.59999999999991" height="20.90000000000009" fill="#404040"></rect>
<text x="1053.2" y="1684.8" font-family="Carlito, 'Liberation Sans', sans-serif" font-size="15.5" font-weight="700" fill="#fff" text-anchor="middle" textLength="27.0" lengthAdjust="spacingAndGlyphs">22%</text>
<rect x="1110.1000000000001" y="1677.8" width="31.59999999999991" height="20.700000000000045" fill="#000" opacity="0.18"></rect>
<rect x="1108.9" y="1676.6" width="31.59999999999991" height="20.700000000000045" fill="#404040"></rect>
<text x="1124.7" y="1692.2" font-family="Carlito, 'Liberation Sans', sans-serif" font-size="15.5" font-weight="700" fill="#fff" text-anchor="middle" textLength="27.0" lengthAdjust="spacingAndGlyphs">18%</text>
<rect x="1023.8000000000001" y="1731.1000000000001" width="31.600000000000023" height="20.699999999999818" fill="#000" opacity="0.18"></rect>
<rect x="1022.6" y="1729.9" width="31.600000000000023" height="20.699999999999818" fill="#404040"></rect>
<text x="1038.4" y="1745.5" font-family="Carlito, 'Liberation Sans', sans-serif" font-size="15.5" font-weight="700" fill="#fff" text-anchor="middle" textLength="27.0" lengthAdjust="spacingAndGlyphs">19%</text>
<rect x="1115.2" y="1734.9" width="31.59999999999991" height="20.700000000000045" fill="#000" opacity="0.18"></rect>
<rect x="1114" y="1733.7" width="31.59999999999991" height="20.700000000000045" fill="#404040"></rect>
<text x="1129.8" y="1749.3" font-family="Carlito, 'Liberation Sans', sans-serif" font-size="15.5" font-weight="700" fill="#fff" text-anchor="middle" textLength="27.0" lengthAdjust="spacingAndGlyphs">19%</text>
<rect x="1068.3" y="1762.7" width="31.800000000000182" height="20.700000000000045" fill="#000" opacity="0.18"></rect>
<rect x="1067.1" y="1761.5" width="31.800000000000182" height="20.700000000000045" fill="#404040"></rect>
<text x="1083.0" y="1777.1" font-family="Carlito, 'Liberation Sans', sans-serif" font-size="15.5" font-weight="700" fill="#fff" text-anchor="middle" textLength="27.0" lengthAdjust="spacingAndGlyphs">17%</text>
<text x="1190.3" y="1615.9" font-family="Carlito, 'Liberation Sans', sans-serif" font-size="17.5" font-weight="700" fill="#000" text-anchor="middle" textLength="184.0" lengthAdjust="spacingAndGlyphs">Sangjani Weighing Station</text>
<text x="1190.3" y="1637.0" font-family="Carlito, 'Liberation Sans', sans-serif" font-size="17.5" font-weight="700" fill="#000" text-anchor="middle" textLength="96.0" lengthAdjust="spacingAndGlyphs">(Southbound)</text>
<text x="1282.7" y="1696.4" font-family="Carlito, 'Liberation Sans', sans-serif" font-size="13.5" font-weight="700" fill="#404040" text-anchor="middle" textLength="86.0" lengthAdjust="spacingAndGlyphs">6-AXLE Trucks</text>
<text x="1282.7" y="1715.5" font-family="Carlito, 'Liberation Sans', sans-serif" font-size="13.5" font-weight="700" fill="#404040" text-anchor="middle" textLength="107.0" lengthAdjust="spacingAndGlyphs">Load Distribution</text>
<rect x="1250.1" y="1736.6" width="95.40000000000009" height="67.10000000000014" fill="#f7f7f7"></rect>
<rect x="1275.2" y="1741.2" width="8.099999999999909" height="8.099999999999909" fill="#70AD47"></rect>
<text x="1287.1" y="1749.8" font-family="Carlito, 'Liberation Sans', sans-serif" font-size="14" fill="#404040" textLength="35.0" lengthAdjust="spacingAndGlyphs">Axle-1</text>
<rect x="1275.2" y="1758.0" width="8.099999999999909" height="8.099999999999909" fill="#4472C4"></rect>
<text x="1287.1" y="1766.7" font-family="Carlito, 'Liberation Sans', sans-serif" font-size="14" fill="#404040" textLength="35.0" lengthAdjust="spacingAndGlyphs">Axle-2</text>
<rect x="1275.2" y="1775.2" width="8.099999999999909" height="8.099999999999909" fill="#FFC000"></rect>
<text x="1287.1" y="1783.8" font-family="Carlito, 'Liberation Sans', sans-serif" font-size="14" fill="#404040" textLength="35.0" lengthAdjust="spacingAndGlyphs">Axle-3</text>
<rect x="1275.2" y="1792.0" width="8.099999999999909" height="8.099999999999909" fill="#43682B"></rect>
<text x="1287.1" y="1800.6" font-family="Carlito, 'Liberation Sans', sans-serif" font-size="14" fill="#404040" textLength="35.0" lengthAdjust="spacingAndGlyphs">Axle-4</text>
<line x1="954.6" y1="1596.7" x2="1376.0" y2="1596.7" stroke="#3a3a3a" stroke-width="1.6"></line>
<line x1="954.6" y1="1813.3" x2="1376.0" y2="1813.3" stroke="#3a3a3a" stroke-width="1.6"></line>
<line x1="954.6" y1="1596.7" x2="954.6" y2="1813.3" stroke="#3a3a3a" stroke-width="1.6"></line>
<line x1="1375.2" y1="1596.7" x2="1375.2" y2="1813.3" stroke="#3a3a3a" stroke-width="1.6"></line>
<clipPath id="mapclip"><rect x="1392.5" y="711.5" width="1084.5" height="987.0"></rect></clipPath>
<g clip-path="url(#mapclip)">
<rect x="1392.5" y="711.5" width="1084.5" height="987.0" fill="#eeecea"></rect>
<rect x="1392.5" y="711.5" width="1084.5" height="987.0" filter="url(#bgN)" style="mix-blend-mode:overlay" opacity="0.35"></rect>
<path d="M1392,1596 L1420,1594 L1450,1590 L1478,1588 L1600,1580 L1711,1574 L1742,1585 L1770,1609 L1787,1630 L1804,1633 L1808,1657 L1798,1700 L1392,1700 Z" fill="#a6c8f0"></path>
<path d="M1818,1520 Q1830,1540 1826,1560 L1810,1572 Q1800,1550 1808,1530 Z" fill="#c5e3a4"></path>
<path d="M1812,1655 Q1822,1670 1818,1700 L1800,1700 Q1802,1670 1812,1655 Z" fill="#c5e3a4"></path>
<ellipse cx="2110" cy="1240" rx="12" ry="9" fill="#c8e2a8"></ellipse>
<ellipse cx="2470" cy="1575" rx="16" ry="35" fill="#c8e2a8"></ellipse>
<ellipse cx="1516" cy="1346" rx="20" ry="29" transform="rotate(-28 1516 1346)" fill="#a6c8f0"></ellipse>
<path d="M1405,1205 Q1420,1218 1445,1213 L1450,1208 Q1430,1210 1412,1200 Z" fill="#a6c8f0"></path>
<path d="M1448,1203 L1467,1193 L1470,1198 L1452,1208 Z" fill="#a6c8f0"></path>
<path d="M2363,1640 L2372,1620 L2378,1630 L2370,1660 L2360,1680 L2352,1675 Z" fill="#a6c8f0"></path>
<path d="M1627,1232 L1633,1230 L1633,1270 L1628,1268 Z" fill="#a6c8f0"></path>
<path d="M2022,1105 Q2030,1140 2025,1180 Q2020,1210 2010,1250 Q1990,1300 1960,1330" fill="none" stroke="#b8d2f0" stroke-width="2"></path>
<path d="M1857.0,757.5 L1892.0,754.0 L1913.0,748.8" fill="none" stroke="#ecd89e" stroke-width="2.2" stroke-linejoin="round" opacity="0.95"></path>
<path d="M1930.6,790.6 L1962.0,787.0 L1979.0,790.6 L2005.5,794.0 L2031.6,808.0 L2057.8,822.0" fill="none" stroke="#ecd89e" stroke-width="2.2" stroke-linejoin="round" opacity="0.95"></path>
<path d="M1930.6,790.6 L1923.6,804.5 L1916.7,832.4 L1920.0,856.8 L1930.6,867.2" fill="none" stroke="#ecd89e" stroke-width="2.2" stroke-linejoin="round" opacity="0.95"></path>
<path d="M1909.7,797.6 L1901.0,822.0 L1888.8,856.8" fill="none" stroke="#ecd89e" stroke-width="2.2" stroke-linejoin="round" opacity="0.95"></path>
<path d="M2111.8,712.2 L2118.7,734.8 L2111.8,766.2 L2125.7,781.9 L2136.2,804.5 L2144.9,830.7" fill="none" stroke="#ecd89e" stroke-width="2.2" stroke-linejoin="round" opacity="0.95"></path>
<path d="M2164.0,712.2 L2153.6,752.3 L2162.3,759.2 L2188.4,761.0 L2205.9,752.3 L2240.0,743.6" fill="none" stroke="#ecd89e" stroke-width="2.2" stroke-linejoin="round" opacity="0.95"></path>
<path d="M2185.0,761.0 L2188.4,787.0 L2202.4,808.0" fill="none" stroke="#ecd89e" stroke-width="2.2" stroke-linejoin="round" opacity="0.95"></path>
<path d="M2276.5,900.0 L2279.4,911.3 L2299.2,919.8 L2313.4,921.3 L2321.9,953.8 L2327.5,965.2 L2355.9,979.4 L2367.2,985.0 L2370.0,1013.4 L2367.2,1041.7 L2370.0,1077.1" fill="none" stroke="#ecd89e" stroke-width="2.2" stroke-linejoin="round" opacity="0.95"></path>
<path d="M2285.0,1048.8 L2320.4,1047.4 L2341.7,1053.0 L2363.0,1077.1" fill="none" stroke="#ecd89e" stroke-width="2.2" stroke-linejoin="round" opacity="0.95"></path>
<path d="M2320.4,1047.4 L2320.4,1070.0 L2324.7,1098.4 L2317.6,1126.7" fill="none" stroke="#ecd89e" stroke-width="2.2" stroke-linejoin="round" opacity="0.95"></path>
<path d="M2341.7,1112.6 L2384.2,1112.6 L2412.6,1119.6 L2440.9,1112.6 L2477.7,1105.5" fill="none" stroke="#ecd89e" stroke-width="2.2" stroke-linejoin="round" opacity="0.95"></path>
<path d="M2405.5,1041.7 L2412.6,1070.0 L2426.7,1098.4" fill="none" stroke="#ecd89e" stroke-width="2.2" stroke-linejoin="round" opacity="0.95"></path>
<path d="M2355.9,900.0 L2348.8,921.3 L2341.7,935.4" fill="none" stroke="#ecd89e" stroke-width="2.2" stroke-linejoin="round" opacity="0.95"></path>
<path d="M2048.0,1452.5 L2093.3,1443.4 L2115.9,1448.0 L2143.1,1461.5 L2143.1,1482.0 L2161.2,1502.3 L2192.9,1510.9" fill="none" stroke="#ecd89e" stroke-width="2.2" stroke-linejoin="round" opacity="0.95"></path>
<path d="M2048.0,1452.5 L2066.0,1475.0 L2066.0,1504.6 L2079.7,1538.5 L2077.4,1583.9 L2097.8,1606.5 L2106.8,1640.5 L2097.8,1674.5" fill="none" stroke="#ecd89e" stroke-width="2.2" stroke-linejoin="round" opacity="0.95"></path>
<path d="M2192.9,1510.9 L2229.1,1506.8 L2256.3,1513.6 L2274.5,1525.0 L2303.4,1492.1 L2333.3,1475.1 L2382.0,1454.3 L2410.3,1448.0 L2476.0,1436.6" fill="none" stroke="#ecd89e" stroke-width="2.2" stroke-linejoin="round" opacity="0.95"></path>
<path d="M2382.0,1454.3 L2394.5,1481.9 L2387.7,1515.9 L2356.0,1547.6 L2365.0,1572.5 L2387.2,1595.6 L2421.7,1597.4 L2476.0,1597.4" fill="none" stroke="#ecd89e" stroke-width="2.2" stroke-linejoin="round" opacity="0.95"></path>
<path d="M2387.2,1595.6 L2392.2,1629.2 L2410.3,1651.8 L2433.0,1674.5" fill="none" stroke="#ecd89e" stroke-width="2.2" stroke-linejoin="round" opacity="0.95"></path>
<path d="M2303.4,1492.1 L2299.4,1538.5 L2299.4,1583.9 L2303.9,1629.2 L2306.2,1674.5" fill="none" stroke="#ecd89e" stroke-width="2.2" stroke-linejoin="round" opacity="0.95"></path>
<path d="M2240.0,1646.8 L2206.5,1640.5 L2183.9,1617.8 L2206.5,1583.9 L2215.6,1538.5 L2256.3,1513.6" fill="none" stroke="#ecd89e" stroke-width="2.2" stroke-linejoin="round" opacity="0.95"></path>
<path d="M2240.0,1646.8 L2274.4,1642.7 L2301.6,1629.2" fill="none" stroke="#ecd89e" stroke-width="2.2" stroke-linejoin="round" opacity="0.95"></path>
<path d="M2240.0,1646.8 L2236.0,1697.0" fill="none" stroke="#ecd89e" stroke-width="2.2" stroke-linejoin="round" opacity="0.95"></path>
<path d="M2138.6,1536.3 L2100.0,1552.1 L2079.7,1538.5" fill="none" stroke="#ecd89e" stroke-width="2.2" stroke-linejoin="round" opacity="0.95"></path>
<path d="M2143.1,1482.0 L2183.9,1475.1 L2240.5,1432.1 L2297.1,1411.7 L2333.3,1391.3" fill="none" stroke="#ecd89e" stroke-width="2.2" stroke-linejoin="round" opacity="0.95"></path>
<path d="M2333.3,1380.0 L2333.3,1402.6 L2365.0,1420.8 L2392.2,1448.0" fill="none" stroke="#ecd89e" stroke-width="2.2" stroke-linejoin="round" opacity="0.95"></path>
<path d="M1862.6,1133.9 L1920.2,1127.1 L1971.0,1150.8 L2004.9,1184.7 L2021.9,1235.5" fill="none" stroke="#ecd89e" stroke-width="2.2" stroke-linejoin="round" opacity="0.95"></path>
<path d="M2038.8,1184.7 L2089.6,1184.7 L2140.4,1167.8" fill="none" stroke="#ecd89e" stroke-width="2.2" stroke-linejoin="round" opacity="0.95"></path>
<path d="M1842.3,1371.0 L1869.4,1404.9 L1828.7,1438.8 L1835.5,1506.5 L1862.6,1540.4" fill="none" stroke="#ecd89e" stroke-width="2.2" stroke-linejoin="round" opacity="0.95"></path>
<path d="M1889.7,1567.5 L1937.2,1557.4 L1988.0,1554.0" fill="none" stroke="#ecd89e" stroke-width="2.2" stroke-linejoin="round" opacity="0.95"></path>
<path d="M2055.7,1455.7 L2140.4,1438.8 L2208.2,1455.7 L2275.9,1438.8" fill="none" stroke="#ecd89e" stroke-width="2.2" stroke-linejoin="round" opacity="0.95"></path>
<path d="M2140.4,1438.8 L2147.2,1506.5 L2123.5,1557.4" fill="none" stroke="#ecd89e" stroke-width="2.2" stroke-linejoin="round" opacity="0.95"></path>
<path d="M2208.2,1371.0 L2215.0,1404.9 L2235.3,1438.8" fill="none" stroke="#ecd89e" stroke-width="2.2" stroke-linejoin="round" opacity="0.95"></path>
<path d="M2116.7,1354.1 L2174.3,1364.3 L2211.6,1360.9 L2275.9,1357.5" fill="none" stroke="#ecd89e" stroke-width="2.2" stroke-linejoin="round" opacity="0.95"></path>
<path d="M1392.3,1270.9 L1413.4,1280.3 L1448.5,1292.0 L1530.5,1301.4 L1589.0,1292.0 L1631.2,1278.0" fill="none" stroke="#ecd89e" stroke-width="2.2" stroke-linejoin="round" opacity="0.95"></path>
<path d="M1544.5,1170.2 L1558.6,1158.5 L1568.0,1149.2" fill="none" stroke="#ecd89e" stroke-width="2.2" stroke-linejoin="round" opacity="0.95"></path>
<path d="M1392.3,1439.5 L1413.4,1432.5 L1436.8,1413.8 L1455.6,1411.4 L1483.7,1427.8 L1518.8,1434.9 L1553.9,1423.1 L1589.0,1420.8 L1624.2,1427.8" fill="none" stroke="#ecd89e" stroke-width="2.2" stroke-linejoin="round" opacity="0.95"></path>
<path d="M1577.3,1451.2 L1624.2,1427.8" fill="none" stroke="#ecd89e" stroke-width="2.2" stroke-linejoin="round" opacity="0.95"></path>
<path d="M1764.6,1165.6 L1774.0,1182.0" fill="none" stroke="#ecd89e" stroke-width="2.2" stroke-linejoin="round" opacity="0.95"></path>
<path d="M1870.0,1160.0 L1900.0,1200.0 L1915.0,1260.0 L1890.0,1320.0 L1870.0,1365.0" fill="none" stroke="#ecd89e" stroke-width="2.2" stroke-linejoin="round" opacity="0.95"></path>
<path d="M1840.0,1460.0 L1820.0,1480.0 L1800.0,1530.0 L1790.0,1575.0" fill="none" stroke="#ecd89e" stroke-width="2.2" stroke-linejoin="round" opacity="0.95"></path>
<path d="M2000.0,1640.0 L2040.0,1625.0 L2080.0,1640.0 L2120.0,1620.0 L2160.0,1630.0" fill="none" stroke="#ecd89e" stroke-width="2.2" stroke-linejoin="round" opacity="0.95"></path>
<path d="M1950.0,1600.0 L1990.0,1580.0 L2020.0,1600.0" fill="none" stroke="#ecd89e" stroke-width="2.2" stroke-linejoin="round" opacity="0.95"></path>
<path d="M2420.0,1250.0 L2440.0,1300.0 L2470.0,1330.0" fill="none" stroke="#ecd89e" stroke-width="2.2" stroke-linejoin="round" opacity="0.95"></path>
<path d="M2440.0,1370.0 L2420.0,1420.0 L2440.0,1470.0 L2477.0,1490.0" fill="none" stroke="#ecd89e" stroke-width="2.2" stroke-linejoin="round" opacity="0.95"></path>
<path d="M2172,872 Q2162,905 2165,940 Q2172,990 2200,1025 Q2215,1045 2190,1080 Q2160,1110 2130,1150" fill="none" stroke="#f3c77d" stroke-width="3.2"></path>
<path d="M1790,1622 Q1820,1600 1860,1590" fill="none" stroke="#f3c77d" stroke-width="3"></path>
<path d="M1392,1217 L1467,1244 L1544,1236 L1584,1245 L1587,1236 L1612,1228 L1632,1229" fill="none" stroke="#5a5a5a" stroke-width="2.6" stroke-linejoin="round"></path>
<path d="M1392,1245 L1399,1269 L1413,1290 L1444,1315 L1467,1325 L1479,1340 L1488,1339 L1491,1365 L1493,1421 L1493,1428 L1523,1428 L1521,1466" fill="none" stroke="#5a5a5a" stroke-width="2.6" stroke-linejoin="round"></path>
<path d="M1738,1140 L1734,1147 L1737,1161 L1727,1184 L1734,1191" fill="none" stroke="#5a5a5a" stroke-width="2.6" stroke-linejoin="round"></path>
<path d="M1392,1478 L1420,1471 L1439,1481 L1430,1520 L1415,1561 L1411,1599" fill="none" stroke="#5a5a5a" stroke-width="2.6" stroke-linejoin="round"></path>
<path d="M1442,711 L1457,722 M1513,711 L1488,722" fill="none" stroke="#5a5a5a" stroke-width="2.6" stroke-linejoin="round"></path>
<path d="M2098,711 L2091,721 L2100,730 L2091,742 L2080,754 L2072,759 L2065,773 L2061,782 L2054,792 L2060,798 L2065,808 L2063,825 L2059,829" fill="none" stroke="#5a5a5a" stroke-width="2.6" stroke-linejoin="round"></path>
<path d="M2058,834 L2040,841 L1997,843 L1979,836 L1976,846 L1986,860 L1993,867" fill="none" stroke="#5a5a5a" stroke-width="2.6" stroke-linejoin="round"></path>
<path d="M2288,944 L2305,944 L2304,965 L2308,974 L2325,975 L2336,979 L2350,988 L2353,996 L2349,1005 L2328,1013 L2316,1019 L2299,1028 L2299,1070 L2295,1081 L2296,1096 L2288,1110 L2279,1121 L2269,1151 L2228,1212 L2198,1256 L2167,1283 L2140,1310 L2120,1344 L2106,1368 L2073,1374 L2042,1385 L2032,1368 L2018,1359 L1998,1368 L1981,1395 L1961,1422 L1951,1456 L1968,1476 L1980,1480 L1997,1482 L1991,1520 L2003,1552 L2030,1557 L2032,1579 L2048,1604 L2059,1638 L2055,1665 L2021,1661 L2014,1699" fill="none" stroke="#5a5a5a" stroke-width="2.6" stroke-linejoin="round"></path>
<path d="M2258,872 L2262,890 L2270,905 L2279,928 L2288,943" fill="none" stroke="#666" stroke-width="2.4" stroke-dasharray="2,4" stroke-linecap="round"></path>
<path d="M2360,992 L2386,975 L2391,957 L2383,938 L2393,934 L2418,917 L2427,910 L2444,911 L2455,918 L2478,935" fill="none" stroke="#666" stroke-width="2.6" stroke-dasharray="8,5"></path>
<path d="M2430,1510 Q2440,1560 2450,1600 Q2460,1640 2450,1690" fill="none" stroke="#999" stroke-width="2" stroke-dasharray="6,5"></path>
<path d="M2330,1620 Q2360,1610 2380,1630 Q2400,1660 2420,1640" fill="none" stroke="#999" stroke-width="2" stroke-dasharray="6,5"></path>
<path d="M2070,1640 Q2100,1630 2130,1640 Q2160,1650 2190,1645" fill="none" stroke="#999" stroke-width="2" stroke-dasharray="6,5"></path>
<rect x="1864.3" y="866.6" width="203.89999999999986" height="244.9999999999999" fill="#000" opacity="0.28" filter="url(#blur6)"></rect><clipPath id="mclip"><rect x="1867.3" y="868.6" width="195.89999999999986" height="236.9999999999999"></rect></clipPath><g clip-path="url(#mclip)"><rect x="1867.3" y="868.6" width="195.89999999999986" height="236.9999999999999" fill="#7b8676"></rect><rect x="1867.3" y="868.6" width="195.89999999999986" height="236.9999999999999" filter="url(#patchA)" opacity="0.55"></rect><polygon points="1935.3,934.6 1967.3,930.6 1982.3,1008.6 1952.3,1012.6" fill="#8e8f83" opacity="0.8" filter="url(#blur1)"></polygon><polygon points="1867.3,868.6 1927.3,868.6 1917.3,928.6 1887.3,958.6 1867.3,948.6" fill="#72806f" opacity="0.5" filter="url(#blur3)"></polygon><rect x="1867.3" y="868.6" width="195.89999999999986" height="236.9999999999999" filter="url(#fineN)" style="mix-blend-mode:overlay" opacity="0.24750000000000003"></rect><path d="M1904.3,868.6 L1924.3,958.6 L1952.3,1058.6 L1957.3,1078.6 L1949.3,1105.6" fill="none" stroke="#d6d64a" stroke-width="2.6"></path><path d="M2007.3,938.6 Q2027.3,923.6 2057.3,913.6" fill="none" stroke="#5d6a5a" stroke-width="1.5" opacity="0.7"></path></g><text x="1921.3" y="1039.6" font-family="'Liberation Sans', Arial, sans-serif" font-size="8.5" fill="#fff" stroke="#222" stroke-width="1.6" paint-order="stroke" textLength="60.5" lengthAdjust="spacingAndGlyphs">Mullan Mansoor</text><circle cx="1958.3" cy="1084.6" r="5.5" fill="#4a7bd8" stroke="#7aa0f0" stroke-width="1"></circle>
<rect x="1629.9" y="1191.1" width="206.39999999999986" height="247.9000000000001" fill="#000" opacity="0.28" filter="url(#blur6)"></rect><clipPath id="rclip"><rect x="1632.9" y="1193.1" width="198.39999999999986" height="239.9000000000001"></rect></clipPath><g clip-path="url(#rclip)"><rect x="1632.9" y="1193.1" width="198.39999999999986" height="239.9000000000001" fill="#b6a98e"></rect><polygon points="1632.9,1298.1 1672.9,1293.1 1677.9,1383.1 1632.9,1388.1" fill="#857c6a"></polygon><polygon points="1648.9,1311.1 1687.9,1275.1 1735.9,1253.1 1781.9,1239.1 1821.9,1240.1 1828.9,1265.1 1828.9,1353.1 1782.9,1371.1 1750.9,1385.1 1718.9,1388.1 1687.9,1381.1 1656.9,1365.1 1644.9,1343.1" fill="#cec5ad" filter="url(#blur4)"></polygon><polygon points="1692.9,1303.1 1732.9,1273.1 1772.9,1263.1 1812.9,1263.1 1817.9,1323.1 1782.9,1353.1 1742.9,1368.1 1712.9,1363.1" fill="#ddd7c6" filter="url(#blur6)"></polygon><polygon points="1772.9,1353.1 1830.9,1343.1 1830.9,1434.1 1773.9,1434.1" fill="#bea78a" filter="url(#blur3)"></polygon><polygon points="1632.9,1193.1 1830.9,1193.1 1830.9,1223.1 1782.9,1233.1 1732.9,1251.1 1687.9,1273.1 1652.9,1298.1 1632.9,1311.1" fill="#46563e"></polygon><polygon points="1672.9,1203.1 1692.9,1198.1 1687.9,1253.1 1667.9,1273.1" fill="#7a7a62" opacity="0.45" filter="url(#blur3)"></polygon><polygon points="1752.9,1208.1 1792.9,1203.1 1782.9,1228.1 1747.9,1233.1" fill="#85806a" opacity="0.5" filter="url(#blur3)"></polygon><polygon points="1694.9,1193.1 1752.9,1193.1 1742.9,1223.1 1712.9,1238.1 1692.9,1223.1" fill="#8f8a72" opacity="0.75" filter="url(#blur3)"></polygon><polygon points="1718.9,1389.1 1767.9,1385.1 1773.9,1434.1 1712.9,1434.1" fill="#4b5a40" filter="url(#blur1)"></polygon><polygon points="1632.9,1385.1 1716.9,1389.1 1712.9,1434.1 1632.9,1434.1" fill="#76705f" filter="url(#blur1)"></polygon><polygon points="1797.9,1398.1 1830.9,1398.1 1830.9,1434.1 1797.9,1434.1" fill="#7b9680" opacity="0.8"></polygon><line x1="1775.9" y1="1193.1" x2="1775.9" y2="1433" stroke="#cdb99b" stroke-width="2.5" opacity="0.7"></line><rect x="1632.9" y="1193.1" width="198.39999999999986" height="239.9000000000001" filter="url(#patchR)" style="mix-blend-mode:overlay" opacity="0.35"></rect><rect x="1632.9" y="1193.1" width="198.39999999999986" height="239.9000000000001" filter="url(#fineN)" style="mix-blend-mode:overlay" opacity="0.2025"></rect><path d="M1632.9,1310.1 Q1682.9,1275.1 1737.9,1253.1 Q1782.9,1235.1 1831.3,1223.1" fill="none" stroke="#3a3a36" stroke-width="2" opacity="0.85"></path><path d="M1632.9,1315.1 Q1687.9,1279.1 1740.9,1259.1 Q1782.9,1243.1 1831.3,1231.1" fill="none" stroke="#d6cd80" stroke-width="1.5" opacity="0.9"></path><path d="M1698.9,1193.1 L1699.9,1214.1 Q1727.9,1243.1 1735.9,1283.1 Q1740.9,1323.1 1735.9,1358.1 Q1724.9,1393.1 1695.9,1433" fill="none" stroke="#d6cd80" stroke-width="1.6" opacity="0.9"></path><path d="M1662.9,1283.1 L1664.9,1268.1 Q1682.9,1253.1 1698.9,1243.1" fill="none" stroke="#d6cd80" stroke-width="1.2" opacity="0.8"></path><path d="M1820.9,1223.1 Q1817.9,1253.1 1828.9,1303.1" fill="none" stroke="#d6cd80" stroke-width="1.2" opacity="0.8"></path><path d="M1632.9,1393.1 Q1647.9,1413.1 1657.9,1433" fill="none" stroke="#d6cd80" stroke-width="1.2" opacity="0.8"></path></g><text x="1660.9" y="1345.1" font-family="'Liberation Sans', Arial, sans-serif" font-size="8.5" fill="#fff" stroke="#222" stroke-width="1.6" paint-order="stroke" textLength="20.3" lengthAdjust="spacingAndGlyphs">Rohri</text><text x="1720.9" y="1412.1" font-family="'Liberation Sans', Arial, sans-serif" font-size="8.5" fill="#fff" stroke="#222" stroke-width="1.6" paint-order="stroke" textLength="48.7" lengthAdjust="spacingAndGlyphs">Nandhi Patni</text><rect x="1727.9" y="1367.1" width="14" height="7" fill="#3548c8"></rect><circle cx="1733.9" cy="1379.1" r="5.5" fill="#4a7bd8" stroke="#7aa0f0" stroke-width="1"></circle>
<rect x="1474.7" y="1464.8" width="227.79999999999995" height="239.70000000000005" fill="#000" opacity="0.28" filter="url(#blur6)"></rect><clipPath id="kclip"><rect x="1477.7" y="1466.8" width="219.79999999999995" height="231.70000000000005"></rect></clipPath><g clip-path="url(#kclip)"><rect x="1477.7" y="1466.8" width="219.79999999999995" height="231.70000000000005" fill="#b8a483"></rect><polygon points="1499.7,1571.8 1537.7,1558.8 1577.7,1561.8 1607.7,1596.8 1612.7,1666.8 1587.7,1696.8 1537.7,1691.8 1507.7,1646.8" fill="#7c7a62" opacity="0.85" filter="url(#blur4)"></polygon><polygon points="1559.7,1554.8 1599.7,1550.8 1602.7,1616.8 1565.7,1618.8" fill="#9d9a90" opacity="0.85" filter="url(#blur1)"></polygon><polygon points="1587.7,1646.8 1637.7,1644.8 1642.7,1698.8 1589.7,1698.8" fill="#8f8c82" opacity="0.7" filter="url(#blur3)"></polygon><polygon points="1637.7,1616.8 1692.7,1606.8 1692.7,1698.8 1642.7,1698.8" fill="#9a947f" opacity="0.6" filter="url(#blur3)"></polygon><polygon points="1617.7,1566.8 1667.7,1596.8 1677.7,1616.8 1627.7,1606.8" fill="#76805e" opacity="0.6" filter="url(#blur3)"></polygon><rect x="1615.7" y="1616.8" width="18" height="27" fill="#e2e0da" opacity="0.9"></rect><rect x="1605.7" y="1574.8" width="4" height="10" fill="#233"></rect><rect x="1477.7" y="1466.8" width="219.79999999999995" height="231.70000000000005" filter="url(#fineN)" style="mix-blend-mode:overlay" opacity="0.27"></rect><path d="M1532.7,1466.8 Q1535.7,1526.8 1534.7,1576.8 Q1517.7,1606.8 1509.7,1646.8 Q1505.7,1666.8 1477.7,1681.8" fill="none" stroke="#d9cf6e" stroke-width="1.7" opacity="0.9"></path><path d="M1672.7,1466.8 Q1642.7,1516.8 1605.7,1551.8 L1601.7,1626.8 Q1592.7,1666.8 1574.7,1698.5" fill="none" stroke="#d9cf6e" stroke-width="1.7" opacity="0.9"></path><path d="M1560.7,1466.8 Q1617.7,1486.8 1652.7,1496.8" fill="none" stroke="#cfc47a" stroke-width="1.4" opacity="0.8"></path><path d="M1572.7,1685.8 L1627.7,1698.5" fill="none" stroke="#cfc47a" stroke-width="1.4" opacity="0.8"></path><path d="M1677.7,1486.8 L1657.7,1626.8 L1647.7,1698.5" fill="none" stroke="#9d8f72" stroke-width="1.4" opacity="0.7"></path></g><text x="1488.7" y="1641.8" font-family="'Liberation Sans', Arial, sans-serif" font-size="7.5" fill="#fff" stroke="#222" stroke-width="1.5" paint-order="stroke" textLength="67.4" lengthAdjust="spacingAndGlyphs">Pakistan Steel Town</text><text x="1549.7" y="1536.8" font-family="'Liberation Sans', Arial, sans-serif" font-size="7.5" fill="#fff" stroke="#222" stroke-width="1.5" paint-order="stroke" textLength="50.0" lengthAdjust="spacingAndGlyphs">Soomar Jokhio</text><text x="1634.7" y="1634.8" font-family="'Liberation Sans', Arial, sans-serif" font-size="7.5" fill="#fff" stroke="#222" stroke-width="1.5" paint-order="stroke" textLength="34.6" lengthAdjust="spacingAndGlyphs">Bin Qasim</text><rect x="1597.7" y="1542.8" width="14" height="6" fill="#3548c8"></rect><circle cx="1621.1000000000001" cy="1524.2" r="5.5" fill="#4a7bd8" stroke="#7aa0f0" stroke-width="1"></circle><circle cx="1601.5" cy="1633.6" r="5.5" fill="#4a7bd8" stroke="#7aa0f0" stroke-width="1"></circle>
<radialGradient id="ge1" cx="0.5" cy="0.5" r="0.5"><stop offset="0.76" stop-color="#fff" stop-opacity="1"></stop><stop offset="0.91" stop-color="#fff" stop-opacity="0.6"></stop><stop offset="1" stop-color="#fff" stop-opacity="0"></stop></radialGradient><mask id="me1" maskContentUnits="userSpaceOnUse"><ellipse cx="2360" cy="814" rx="123" ry="87" fill="url(#ge1)"></ellipse></mask><g mask="url(#me1)"><rect x="2237" y="727" width="246" height="174" fill="#76796c"></rect><rect x="2237" y="727" width="246" height="174" filter="url(#patchB)" opacity="0.75"></rect><polygon points="2317.0,752.0 2347.0,747.0 2352.0,772.0 2322.0,777.0" fill="#9a8a76" opacity="0.7" filter="url(#blur1)"></polygon><polygon points="2387.0,872.0 2422.0,877.0 2417.0,892.0 2385.0,885.0" fill="#b5b5b0" opacity="0.8" filter="url(#blur1)"></polygon><rect x="2237" y="727" width="246" height="174" filter="url(#fineN)" style="mix-blend-mode:overlay" opacity="0.27"></rect><path d="M2370,724 L2450,862 L2470,894" fill="none" stroke="#d8d65a" stroke-width="1.6"></path><path d="M2362,724 L2442,864 L2462,896" fill="none" stroke="#d8d65a" stroke-width="1.6"></path><path d="M2304,724 L2314,794" stroke="#d8d65a" stroke-width="2"></path><circle cx="2399.3" cy="802.6" r="6" fill="#4a7bd8" stroke="#7aa0f0" stroke-width="1"></circle></g><path d="M2243,790 Q2250,780 2262,786 Q2268,800 2276,808 Q2280,814 2274,815 Q2266,813 2264,818 Q2270,826 2265,830 Q2255,826 2250,830 Q2240,828 2240,815 Z" fill="#1f2238" filter="url(#blur1)"></path>
<radialGradient id="ge2" cx="0.5" cy="0.5" r="0.5"><stop offset="0.76" stop-color="#fff" stop-opacity="1"></stop><stop offset="0.91" stop-color="#fff" stop-opacity="0.6"></stop><stop offset="1" stop-color="#fff" stop-opacity="0"></stop></radialGradient><mask id="me2" maskContentUnits="userSpaceOnUse"><ellipse cx="2318" cy="1217" rx="145" ry="79.5" fill="url(#ge2)"></ellipse></mask><g mask="url(#me2)"><rect x="2173" y="1137.5" width="290" height="159.0" fill="#68744e"></rect><rect x="2173" y="1137.5" width="290" height="159.0" filter="url(#patchC)" opacity="0.8"></rect><ellipse cx="2223" cy="1222" rx="45" ry="45" fill="#8a7d62" opacity="0.55" filter="url(#blur6)"></ellipse><ellipse cx="2298" cy="1197" rx="35" ry="22" fill="#8d8266" opacity="0.5" filter="url(#blur6)"></ellipse><ellipse cx="2408" cy="1182" rx="30" ry="18" fill="#a09579" opacity="0.5" filter="url(#blur6)"></ellipse><rect x="2173" y="1137.5" width="290" height="159.0" filter="url(#fineN)" style="mix-blend-mode:overlay" opacity="0.24750000000000003"></rect><path d="M2194,1165 L2221,1191 L2300,1267 L2336,1281 L2458,1203" fill="none" stroke="#d8d65a" stroke-width="1.4" opacity="0.9"></path><path d="M2163,1209 L2205,1206 L2270,1163" fill="none" stroke="#d8d65a" stroke-width="1.4" opacity="0.9"></path><path d="M2188,1160 L2296,1170 M2323,1180 L2408,1193" fill="none" stroke="#d8d65a" stroke-width="1.4" opacity="0.9"></path><path d="M2252,1157 Q2258,1177 2270,1181 L2313,1191 L2373,1194 Q2393,1199 2403,1217 L2426,1253 L2430,1267" fill="none" stroke="#333" stroke-width="1.6" opacity="0.75"></path><path d="M2344,1139 L2328,1162" fill="none" stroke="#d8d65a" stroke-width="1.2" opacity="0.8"></path><rect x="2306" y="1185" width="13" height="7" fill="#4a7bd8"></rect><circle cx="2446" cy="1205" r="6" fill="#4a7bd8" stroke="#7aa0f0" stroke-width="1"></circle></g><text x="2300.0" y="1177.0" font-family="'Liberation Sans', Arial, sans-serif" font-size="11" fill="#fff" textLength="80.0" lengthAdjust="spacingAndGlyphs" stroke="#222" stroke-width="1.8" paint-order="stroke">Eminabad More</text>
<polyline points="2059.0,828.0 2066.0,833.5 2085.0,836.5 2110.0,836.0 2124.6,835.2 2140.0,842.0 2155.0,852.0 2169.2,861.7 2183.0,866.0 2195.6,872.8 2203.0,885.0 2209.6,900.7 2215.0,913.0 2220.7,923.0 2230.0,930.0 2240.2,936.9 2250.0,950.0 2259.8,964.8 2266.0,980.0 2269.5,996.9 2272.0,1010.0 2275.1,1020.6 2277.0,1040.0 2280.7,1056.8 2275.0,1068.0 2265.3,1081.9 2251.4,1095.8 2240.2,1107.9 2223.5,1121.8 2198.4,1135.7 2156.6,1148.3 2114.8,1162.2 2095.3,1166.4 2086.9,1180.3 2089.7,1213.8 2096.7,1241.7 2084.1,1255.6 2047.9,1269.5 2017.2,1291.8 2001.9,1314.2 1995.0,1333.7 1967.1,1347.6 1964.3,1358.7 1939.2,1361.5 1905.7,1389.4 1887.2,1412.3 1863.1,1443.3 1852.7,1467.5 1847.6,1491.6 1863.1,1522.7 1880.3,1550.3 1870.0,1584.8 1863.1,1608.9 1849.3,1629.6 1825.1,1635.5 1815.0,1622.0 1790.0,1620.0 1782.0,1628.0" fill="none" stroke="#1E88E5" stroke-width="6.2" stroke-linejoin="round" stroke-linecap="round"></polyline>
<text x="1906.2" y="755.7" font-family="'Liberation Sans', Arial, sans-serif" font-size="19.5" fill="#3a3a3a" textLength="49.7" lengthAdjust="spacingAndGlyphs">Kabul</text>
<text x="2056.0" y="808.0" font-family="'Liberation Sans', Arial, sans-serif" font-size="19.5" fill="#3a3a3a" textLength="76.7" lengthAdjust="spacingAndGlyphs">Peshawar</text>
<text x="2149.7" y="831.0" font-family="'Liberation Sans', Arial, sans-serif" font-size="19.5" fill="#3a3a3a" textLength="93.3" lengthAdjust="spacingAndGlyphs">Islamabad</text>
<text x="2215.2" y="1054.0" font-family="'Liberation Sans', Arial, sans-serif" font-size="19.5" fill="#3a3a3a" textLength="60.0" lengthAdjust="spacingAndGlyphs">Lahore</text>
<text x="2284.8" y="1038.7" font-family="'Liberation Sans', Arial, sans-serif" font-size="19.5" fill="#3a3a3a" textLength="67.0" lengthAdjust="spacingAndGlyphs">Amritsar</text>
<text x="2328.0" y="1066.6" font-family="'Liberation Sans', Arial, sans-serif" font-size="19.5" fill="#3a3a3a" textLength="76.7" lengthAdjust="spacingAndGlyphs">Jalandhar</text>
<text x="2055.7" y="1142.7" font-family="'Liberation Sans', Arial, sans-serif" font-size="19.5" fill="#3a3a3a" textLength="61.3" lengthAdjust="spacingAndGlyphs">Multan</text>
<text x="2055.7" y="1215.2" font-family="'Liberation Sans', Arial, sans-serif" font-size="19.5" fill="#3a3a3a" textLength="91.2" lengthAdjust="spacingAndGlyphs">Bahawalpur</text>
<text x="2184.0" y="1350.4" font-family="'Liberation Sans', Arial, sans-serif" font-size="19.5" fill="#3a3a3a" textLength="56.3" lengthAdjust="spacingAndGlyphs">Bikaner</text>
<text x="1866.5" y="1372.6" font-family="'Liberation Sans', Arial, sans-serif" font-size="19.5" fill="#3a3a3a" textLength="72.0" lengthAdjust="spacingAndGlyphs">Khairpur</text>
<text x="1830.3" y="1480.6" font-family="'Liberation Sans', Arial, sans-serif" font-size="19.5" fill="#3a3a3a" textLength="91.4" lengthAdjust="spacingAndGlyphs">Nawabshah</text>
<text x="1825.1" y="1546.8" font-family="'Liberation Sans', Arial, sans-serif" font-size="19.5" fill="#3a3a3a" textLength="96.0" lengthAdjust="spacingAndGlyphs">Hyderabad</text>
<text x="1746.5" y="1591.7" font-family="'Liberation Sans', Arial, sans-serif" font-size="19.5" fill="#3a3a3a" textLength="66.6" lengthAdjust="spacingAndGlyphs">Karachi</text>
<text x="1885.5" y="1615.1" font-family="'Liberation Sans', Arial, sans-serif" font-size="19.5" fill="#3a3a3a" textLength="40.4" lengthAdjust="spacingAndGlyphs">Badin</text>
<text x="2354.9" y="1442.3" font-family="'Liberation Sans', Arial, sans-serif" font-size="19.5" fill="#3a3a3a" textLength="55.5" lengthAdjust="spacingAndGlyphs">Jaipur</text>
<text x="2160.0" y="1500.0" font-family="'Liberation Sans', Arial, sans-serif" font-size="19.5" fill="#3a3a3a" textLength="64.6" lengthAdjust="spacingAndGlyphs">Jodhpur</text>
<text x="2281.2" y="1514.8" font-family="'Liberation Sans', Arial, sans-serif" font-size="19.5" fill="#3a3a3a" textLength="44.9" lengthAdjust="spacingAndGlyphs">Ajmer</text>
<text x="2370.0" y="1585.0" font-family="'Liberation Sans', Arial, sans-serif" font-size="19.5" fill="#3a3a3a" textLength="35.4" lengthAdjust="spacingAndGlyphs">Kota</text>
<text x="2209.9" y="1636.0" font-family="'Liberation Sans', Arial, sans-serif" font-size="19.5" fill="#3a3a3a" textLength="60.0" lengthAdjust="spacingAndGlyphs">Udaipur</text>
<text x="2435.4" y="1297.4" font-family="'Liberation Sans', Arial, sans-serif" font-size="19.5" fill="#3a3a3a" textLength="39.0" lengthAdjust="spacingAndGlyphs">New</text>
<text x="1913.0" y="779.0" font-family="'DejaVu Sans', sans-serif" font-size="19" fill="#3a3a3a" textLength="35.0" lengthAdjust="spacingAndGlyphs">کابل</text>
<text x="2073.4" y="830.0" font-family="'DejaVu Sans', sans-serif" font-size="19" fill="#3a3a3a" textLength="36.6" lengthAdjust="spacingAndGlyphs">پشاور</text>
<text x="2156.6" y="850.0" font-family="'DejaVu Sans', sans-serif" font-size="19" fill="#3a3a3a" textLength="76.7" lengthAdjust="spacingAndGlyphs">اسلام آباد</text>
<text x="2240.0" y="1078.0" font-family="'DejaVu Sans', sans-serif" font-size="19" fill="#3a3a3a" textLength="31.0" lengthAdjust="spacingAndGlyphs">لاہور</text>
<text x="2067.4" y="1163.0" font-family="'DejaVu Sans', sans-serif" font-size="19" fill="#3a3a3a" textLength="37.6" lengthAdjust="spacingAndGlyphs">ملتان</text>
<text x="2075.8" y="1234.0" font-family="'DejaVu Sans', sans-serif" font-size="19" fill="#3a3a3a" textLength="48.8" lengthAdjust="spacingAndGlyphs">بہاولپور</text>
<text x="1877.0" y="1396.0" font-family="'DejaVu Sans', sans-serif" font-size="19" fill="#3a3a3a" textLength="27.5" lengthAdjust="spacingAndGlyphs">خیرپور</text>
<text x="1842.4" y="1503.0" font-family="'DejaVu Sans', sans-serif" font-size="19" fill="#3a3a3a" textLength="58.6" lengthAdjust="spacingAndGlyphs">نوابشاہ</text>
<text x="1842.4" y="1571.0" font-family="'DejaVu Sans', sans-serif" font-size="19" fill="#3a3a3a" textLength="60.4" lengthAdjust="spacingAndGlyphs">حیدر آباد</text>
<text x="1756.0" y="1618.0" font-family="'DejaVu Sans', sans-serif" font-size="19" fill="#3a3a3a" textLength="38.0" lengthAdjust="spacingAndGlyphs">کراچی</text>
<text x="1890.7" y="1636.0" font-family="'DejaVu Sans', sans-serif" font-size="19" fill="#3a3a3a" textLength="27.6" lengthAdjust="spacingAndGlyphs">بدین</text>
<text x="1763.0" y="1172.0" font-family="'DejaVu Sans', sans-serif" font-size="19" fill="#3a3a3a" textLength="31.0" lengthAdjust="spacingAndGlyphs">کوئٹہ</text>
<text x="2165.7" y="1472.4" font-family="'Liberation Sans', Arial, sans-serif" font-size="21" fill="#7a7a7a" textLength="137.7" lengthAdjust="spacing">RAJASTHAN</text>
<text x="2397.7" y="1010.8" font-family="'Liberation Sans', Arial, sans-serif" font-size="21" fill="#8a8a8a" textLength="82.0" lengthAdjust="spacing">HIMACH</text>
<text x="2397.7" y="1033.1" font-family="'Liberation Sans', Arial, sans-serif" font-size="21" fill="#8a8a8a" textLength="80.0" lengthAdjust="spacing">PRADE</text>
<text x="2373.5" y="1137.1" font-family="'Liberation Sans', Arial, sans-serif" font-size="21" fill="#8a8a8a" textLength="104.0" lengthAdjust="spacing">CHANDIG</text>
<text x="2440.0" y="1267.0" font-family="'Liberation Sans', Arial, sans-serif" font-size="21" fill="#8a8a8a" textLength="29.2" lengthAdjust="spacingAndGlyphs">NA</text>
<text x="1861.1" y="1206.8" font-family="'Liberation Sans', Arial, sans-serif" font-size="37" font-weight="700" fill="#222" textLength="163.0" lengthAdjust="spacing">Pakistan</text>
<circle cx="1930.8" cy="789.8" r="3.6" fill="#fff" stroke="#333" stroke-width="1.8"></circle>
<circle cx="2192.9" cy="1510.9" r="3.6" fill="#fff" stroke="#333" stroke-width="1.8"></circle>
<circle cx="2303.4" cy="1492.1" r="3.6" fill="#fff" stroke="#333" stroke-width="1.8"></circle>
<circle cx="2382" cy="1454.3" r="3.6" fill="#fff" stroke="#333" stroke-width="1.8"></circle>
<circle cx="2387.2" cy="1595.6" r="3.6" fill="#fff" stroke="#333" stroke-width="1.8"></circle>
<circle cx="2240" cy="1646.8" r="3.6" fill="#fff" stroke="#333" stroke-width="1.8"></circle>
<circle cx="2087" cy="1172" r="3.6" fill="#fff" stroke="#333" stroke-width="1.8"></circle>
<circle cx="2101" cy="1246" r="3.6" fill="#fff" stroke="#333" stroke-width="1.8"></circle>
<circle cx="2210" cy="1362" r="3.6" fill="#fff" stroke="#333" stroke-width="1.8"></circle>
<circle cx="2292" cy="1050" r="3.6" fill="#fff" stroke="#333" stroke-width="1.8"></circle>
<circle cx="2325" cy="1052" r="3.6" fill="#fff" stroke="#333" stroke-width="1.8"></circle>
<circle cx="2366" cy="1078" r="3.6" fill="#fff" stroke="#333" stroke-width="1.8"></circle>
<circle cx="1875" cy="1522" r="3.6" fill="#fff" stroke="#333" stroke-width="1.8"></circle>
<circle cx="1872" cy="1587" r="3.6" fill="#fff" stroke="#333" stroke-width="1.8"></circle>
<circle cx="1903" cy="1633" r="3.6" fill="#fff" stroke="#333" stroke-width="1.8"></circle>
<circle cx="1930.8" cy="789.8" r="1.8" fill="#333"></circle>
<circle cx="2197.5" cy="864.5" r="4" fill="#fff" stroke="#333" stroke-width="1.8"></circle><circle cx="2197.5" cy="864.5" r="1.8" fill="#333"></circle>
<line x1="2064.6" y1="987.1" x2="2104.7" y2="872.7" stroke="#000" stroke-width="5.5"></line><polygon points="2112.0,851.9 2113.5,877.9 2094.6,871.2" fill="#000"></polygon>
<line x1="2223.5" y1="818.5" x2="2200.3" y2="836.8" stroke="#000" stroke-width="5.5"></line><polygon points="2183.1,850.5 2195.7,827.8 2208.1,843.4" fill="#000"></polygon>
<line x1="2318.3" y1="1118.1" x2="2290.9" y2="1022.2" stroke="#000" stroke-width="5.5"></line><polygon points="2284.8,1001.0 2301.0,1021.3 2281.8,1026.8" fill="#000"></polygon>
<line x1="1832.0" y1="1314.0" x2="1927.3" y2="1319.5" stroke="#000" stroke-width="5.5"></line><polygon points="1949.3,1320.8 1924.8,1329.4 1925.9,1309.4" fill="#000"></polygon>
<line x1="1697.5" y1="1581.3" x2="1781.5" y2="1604.8" stroke="#000" stroke-width="5.5"></line><polygon points="1802.7,1610.7 1776.9,1613.9 1782.3,1594.6" fill="#000"></polygon>
<polygon points="2125.7,818.5 2139.8,825.3 2143.2,840.5 2133.5,852.7 2117.9,852.7 2108.2,840.5 2111.6,825.3" fill="#fff" stroke="#2F5597" stroke-width="1.5"></polygon><text x="2125.7" y="846.4" font-family="Carlito, 'Liberation Sans', sans-serif" font-size="29" fill="#FF0000" text-anchor="middle" textLength="14.7" lengthAdjust="spacingAndGlyphs">1</text>
<polygon points="2169.3,844.5 2183.4,851.3 2186.8,866.5 2177.1,878.7 2161.5,878.7 2151.8,866.5 2155.2,851.3" fill="#fff" stroke="#2F5597" stroke-width="1.5"></polygon><text x="2169.3" y="872.4" font-family="Carlito, 'Liberation Sans', sans-serif" font-size="29" fill="#FF0000" text-anchor="middle" textLength="14.7" lengthAdjust="spacingAndGlyphs">2</text>
<polygon points="2269.5,978.9 2283.6,985.7 2287.0,1000.9 2277.3,1013.1 2261.7,1013.1 2252.0,1000.9 2255.4,985.7" fill="#fff" stroke="#2F5597" stroke-width="1.5"></polygon><text x="2269.5" y="1006.8" font-family="Carlito, 'Liberation Sans', sans-serif" font-size="29" fill="#FF0000" text-anchor="middle" textLength="14.7" lengthAdjust="spacingAndGlyphs">3</text>
<polygon points="1962.9,1312.9 1977.0,1319.7 1980.4,1334.9 1970.7,1347.1 1955.1,1347.1 1945.4,1334.9 1948.8,1319.7" fill="#fff" stroke="#2F5597" stroke-width="1.5"></polygon><text x="1962.9" y="1340.8" font-family="Carlito, 'Liberation Sans', sans-serif" font-size="29" fill="#FF0000" text-anchor="middle" textLength="14.7" lengthAdjust="spacingAndGlyphs">4</text>
<polygon points="1815.5,1603.0 1829.6,1609.8 1833.0,1625.0 1823.3,1637.2 1807.7,1637.2 1798.0,1625.0 1801.4,1609.8" fill="#fff" stroke="#2F5597" stroke-width="1.5"></polygon><text x="1815.5" y="1630.9" font-family="Carlito, 'Liberation Sans', sans-serif" font-size="29" fill="#FF0000" text-anchor="middle" textLength="14.7" lengthAdjust="spacingAndGlyphs">5</text>
<text x="1887.2" y="1687" font-family="'Liberation Sans', Arial, sans-serif" font-size="35" textLength="95" lengthAdjust="spacingAndGlyphs"><tspan fill="#4285F4">G</tspan><tspan fill="#EA4335">o</tspan><tspan fill="#FBBC05">o</tspan><tspan fill="#4285F4">g</tspan><tspan fill="#34A853">l</tspan><tspan fill="#EA4335">e</tspan></text>
<text x="1989.0" y="1686.0" font-family="'Liberation Sans', Arial, sans-serif" font-size="29" fill="#6a6a6a" textLength="103.6" lengthAdjust="spacingAndGlyphs">My Maps</text>
</g>
<rect x="1396.4" y="723.5" width="459.2" height="421.5" fill="#fff" stroke="#000" stroke-width="2.2"></rect>
<line x1="1396.4" y1="780.8" x2="1855.6" y2="780.8" stroke="#000" stroke-width="2"></line>
<line x1="1396.4" y1="838.3" x2="1855.6" y2="838.3" stroke="#000" stroke-width="2"></line>
<line x1="1521.2" y1="780.8" x2="1521.2" y2="1145" stroke="#000" stroke-width="2"></line>
<text x="1626.0" y="762.9" font-family="Carlito, 'Liberation Sans', sans-serif" font-size="32" font-weight="700" fill="#000" text-anchor="middle" textLength="223.0" lengthAdjust="spacingAndGlyphs">Survey Locations</text>
<rect x="1409.8" y="801.2" width="87.3" height="11.3" fill="#1B6FC2"></rect>
<text x="1535.5" y="818.5" font-family="Carlito, 'Liberation Sans', sans-serif" font-size="27.5" font-weight="700" fill="#000" textLength="40.5" lengthAdjust="spacingAndGlyphs">N-5</text>
<text x="1536.0" y="872.9" font-family="Carlito, 'Liberation Sans', sans-serif" font-size="28" font-weight="700" fill="#000" textLength="214.6" lengthAdjust="spacingAndGlyphs">Selected Weighing</text>
<text x="1536.0" y="910.3" font-family="Carlito, 'Liberation Sans', sans-serif" font-size="28" font-weight="700" fill="#000" textLength="216.0" lengthAdjust="spacingAndGlyphs">Stations on N-5 at:</text>
<text x="1572.0" y="947.2" font-family="Carlito, 'Liberation Sans', sans-serif" font-size="27.6" fill="#000" textLength="21.0" lengthAdjust="spacingAndGlyphs">1.</text>
<text x="1609.5" y="947.2" font-family="Carlito, 'Liberation Sans', sans-serif" font-size="27.6" fill="#000" textLength="158.6" lengthAdjust="spacingAndGlyphs">Iqbal Shaheed</text>
<text x="1609.5" y="983.4" font-family="Carlito, 'Liberation Sans', sans-serif" font-size="27.6" fill="#000" textLength="187.8" lengthAdjust="spacingAndGlyphs">(Mulla Mansoor)</text>
<text x="1572.0" y="1019.7" font-family="Carlito, 'Liberation Sans', sans-serif" font-size="27.6" fill="#000" textLength="21.0" lengthAdjust="spacingAndGlyphs">2.</text>
<text x="1609.5" y="1019.7" font-family="Carlito, 'Liberation Sans', sans-serif" font-size="27.6" fill="#000" textLength="94.0" lengthAdjust="spacingAndGlyphs">Sangjani</text>
<text x="1572.0" y="1055.7" font-family="Carlito, 'Liberation Sans', sans-serif" font-size="27.6" fill="#000" textLength="21.0" lengthAdjust="spacingAndGlyphs">3.</text>
<text x="1609.5" y="1055.7" font-family="Carlito, 'Liberation Sans', sans-serif" font-size="27.6" fill="#000" textLength="111.8" lengthAdjust="spacingAndGlyphs">Eminabad</text>
<text x="1572.0" y="1092.6" font-family="Carlito, 'Liberation Sans', sans-serif" font-size="27.6" fill="#000" textLength="21.0" lengthAdjust="spacingAndGlyphs">4.</text>
<text x="1609.5" y="1092.6" font-family="Carlito, 'Liberation Sans', sans-serif" font-size="27.6" fill="#000" textLength="146.1" lengthAdjust="spacingAndGlyphs">Rohri/Sukkur</text>
<text x="1572.0" y="1128.6" font-family="Carlito, 'Liberation Sans', sans-serif" font-size="27.6" fill="#000" textLength="21.0" lengthAdjust="spacingAndGlyphs">5.</text>
<text x="1609.5" y="1128.6" font-family="Carlito, 'Liberation Sans', sans-serif" font-size="27.6" fill="#000" textLength="139.2" lengthAdjust="spacingAndGlyphs">Pipri Karachi</text>
<polygon points="1443.8,932.5 1469.6,944.9 1476.0,972.8 1458.1,995.2 1429.5,995.2 1411.6,972.8 1418.0,944.9" fill="#fff" stroke="#2F5597" stroke-width="1.5"></polygon>
<text x="1443.8" y="979.5" font-family="Carlito, 'Liberation Sans', sans-serif" font-size="40" fill="#FF0000" text-anchor="middle" textLength="19.9" lengthAdjust="spacingAndGlyphs">#</text>
<g><text x="96.5" y="177.7" font-family="Carlito, 'Liberation Sans', sans-serif" font-size="60.7" font-weight="700" fill="#000" textLength="739.1" lengthAdjust="spacingAndGlyphs">Pilot Axle Load Survey on N-5</text>
<text x="96.5" y="250.6" font-family="Carlito, 'Liberation Sans', sans-serif" font-size="60.7" font-weight="700" fill="#000" textLength="510.2" lengthAdjust="spacingAndGlyphs">Peshawar to Karachi</text>
<text x="112.8" y="346.1" font-family="Carlito, 'Liberation Sans', sans-serif" font-size="47.4" font-weight="700" fill="#000" textLength="329.2" lengthAdjust="spacingAndGlyphs">Project Location:</text>
<text x="112.8" y="402.6" font-family="Carlito, 'Liberation Sans', sans-serif" font-size="47.4" fill="#000" textLength="403.8" lengthAdjust="spacingAndGlyphs">Weigh Stations along</text>
<text x="112.8" y="459.2" font-family="Carlito, 'Liberation Sans', sans-serif" font-size="47.4" fill="#000" textLength="285.3" lengthAdjust="spacingAndGlyphs">N-5 (G.T. Road)</text>
<text x="112.8" y="572.3" font-family="Carlito, 'Liberation Sans', sans-serif" font-size="47.4" font-weight="700" fill="#000" textLength="126.7" lengthAdjust="spacingAndGlyphs">Client:</text>
<text x="112.8" y="628.8" font-family="Carlito, 'Liberation Sans', sans-serif" font-size="47.4" fill="#000" textLength="239.1" lengthAdjust="spacingAndGlyphs">NUST, NTRC,</text>
<text x="112.8" y="685.3" font-family="Carlito, 'Liberation Sans', sans-serif" font-size="47.4" fill="#000" textLength="197.1" lengthAdjust="spacingAndGlyphs">Islamabad</text>
<text x="112.8" y="798.4" font-family="Carlito, 'Liberation Sans', sans-serif" font-size="47.4" font-weight="700" fill="#000" textLength="288.6" lengthAdjust="spacingAndGlyphs">Client Contact:</text>
<text x="112.8" y="855.0" font-family="Carlito, 'Liberation Sans', sans-serif" font-size="47.4" fill="#000" textLength="115.9" lengthAdjust="spacingAndGlyphs">NTRC,</text>
<text x="112.8" y="911.5" font-family="Carlito, 'Liberation Sans', sans-serif" font-size="47.4" fill="#000" textLength="255.2" lengthAdjust="spacingAndGlyphs">Sector H-8/2,</text>
<text x="112.8" y="968.0" font-family="Carlito, 'Liberation Sans', sans-serif" font-size="47.4" fill="#000" textLength="197.1" lengthAdjust="spacingAndGlyphs">Islamabad</text>
<text x="112.8" y="1137.7" font-family="Carlito, 'Liberation Sans', sans-serif" font-size="47.4" font-weight="700" fill="#000" textLength="211.4" lengthAdjust="spacingAndGlyphs">Start Date:</text>
<text x="112.8" y="1194.2" font-family="Carlito, 'Liberation Sans', sans-serif" font-size="47.4" fill="#000" textLength="197.4" lengthAdjust="spacingAndGlyphs">April 2017</text>
<text x="112.8" y="1307.3" font-family="Carlito, 'Liberation Sans', sans-serif" font-size="47.4" font-weight="700" fill="#000" textLength="345.0" lengthAdjust="spacingAndGlyphs">Completion Date:</text>
<text x="112.8" y="1363.8" font-family="Carlito, 'Liberation Sans', sans-serif" font-size="47.4" fill="#000" textLength="179.1" lengthAdjust="spacingAndGlyphs">July 2017</text>
<text x="578.2" y="345.8" font-family="Carlito, 'Liberation Sans', sans-serif" font-size="47.2" font-weight="700" fill="#000" textLength="373.5" lengthAdjust="spacingAndGlyphs">Project Description</text>
<text x="578.2" y="396.5" font-family="Carlito, 'Liberation Sans', sans-serif" font-size="40.45" fill="#000" textLength="66.0" lengthAdjust="spacingAndGlyphs">This</text>
<text x="657.1" y="396.5" font-family="Carlito, 'Liberation Sans', sans-serif" font-size="40.45" fill="#000" textLength="74.7" lengthAdjust="spacingAndGlyphs">pilot</text>
<text x="744.6" y="396.5" font-family="Carlito, 'Liberation Sans', sans-serif" font-size="40.45" fill="#000" textLength="89.7" lengthAdjust="spacingAndGlyphs">study</text>
<text x="847.2" y="396.5" font-family="Carlito, 'Liberation Sans', sans-serif" font-size="40.45" fill="#000" textLength="25.1" lengthAdjust="spacingAndGlyphs">is</text>
<text x="885.1" y="396.5" font-family="Carlito, 'Liberation Sans', sans-serif" font-size="40.45" fill="#000" textLength="40.6" lengthAdjust="spacingAndGlyphs">an</text>
<text x="938.6" y="396.5" font-family="Carlito, 'Liberation Sans', sans-serif" font-size="40.45" fill="#000" textLength="146.1" lengthAdjust="spacingAndGlyphs">outcome</text>
<text x="1097.6" y="396.5" font-family="Carlito, 'Liberation Sans', sans-serif" font-size="40.45" fill="#000" textLength="33.7" lengthAdjust="spacingAndGlyphs">of</text>
<text x="1144.1" y="396.5" font-family="Carlito, 'Liberation Sans', sans-serif" font-size="40.45" fill="#000" textLength="108.0" lengthAdjust="spacingAndGlyphs">efforts</text>
<text x="1265.0" y="396.5" font-family="Carlito, 'Liberation Sans', sans-serif" font-size="40.45" fill="#000" textLength="39.4" lengthAdjust="spacingAndGlyphs">by</text>
<text x="1317.2" y="396.5" font-family="Carlito, 'Liberation Sans', sans-serif" font-size="40.45" fill="#000" textLength="139.2" lengthAdjust="spacingAndGlyphs">National</text>
<text x="1469.2" y="396.5" font-family="Carlito, 'Liberation Sans', sans-serif" font-size="40.45" fill="#000" textLength="157.1" lengthAdjust="spacingAndGlyphs">Transport</text>
<text x="1639.1" y="396.5" font-family="Carlito, 'Liberation Sans', sans-serif" font-size="40.45" fill="#000" textLength="148.5" lengthAdjust="spacingAndGlyphs">Research</text>
<text x="1800.5" y="396.5" font-family="Carlito, 'Liberation Sans', sans-serif" font-size="40.45" fill="#000" textLength="109.9" lengthAdjust="spacingAndGlyphs">Center</text>
<text x="1923.3" y="396.5" font-family="Carlito, 'Liberation Sans', sans-serif" font-size="40.45" fill="#000" textLength="113.5" lengthAdjust="spacingAndGlyphs">(NTRC)</text>
<text x="2049.6" y="396.5" font-family="Carlito, 'Liberation Sans', sans-serif" font-size="40.45" fill="#000" textLength="34.5" lengthAdjust="spacingAndGlyphs">to</text>
<text x="2097.0" y="396.5" font-family="Carlito, 'Liberation Sans', sans-serif" font-size="40.45" fill="#000" textLength="116.0" lengthAdjust="spacingAndGlyphs">update</text>
<text x="2225.8" y="396.5" font-family="Carlito, 'Liberation Sans', sans-serif" font-size="40.45" fill="#000" textLength="96.6" lengthAdjust="spacingAndGlyphs">traffic</text>
<text x="2335.2" y="396.5" font-family="Carlito, 'Liberation Sans', sans-serif" font-size="40.45" fill="#000" textLength="116.5" lengthAdjust="spacingAndGlyphs">related</text>
<text x="578.2" y="444.9" font-family="Carlito, 'Liberation Sans', sans-serif" font-size="40.45" fill="#000" textLength="149.2" lengthAdjust="spacingAndGlyphs">database</text>
<text x="738.4" y="444.9" font-family="Carlito, 'Liberation Sans', sans-serif" font-size="40.45" fill="#000" textLength="34.5" lengthAdjust="spacingAndGlyphs">to</text>
<text x="783.9" y="444.9" font-family="Carlito, 'Liberation Sans', sans-serif" font-size="40.45" fill="#000" textLength="89.2" lengthAdjust="spacingAndGlyphs">assist</text>
<text x="884.1" y="444.9" font-family="Carlito, 'Liberation Sans', sans-serif" font-size="40.45" fill="#000" textLength="135.4" lengthAdjust="spacingAndGlyphs">decision</text>
<text x="1030.5" y="444.9" font-family="Carlito, 'Liberation Sans', sans-serif" font-size="40.45" fill="#000" textLength="118.1" lengthAdjust="spacingAndGlyphs">makers</text>
<text x="1159.6" y="444.9" font-family="Carlito, 'Liberation Sans', sans-serif" font-size="40.45" fill="#000" textLength="61.9" lengthAdjust="spacingAndGlyphs">and</text>
<text x="1232.4" y="444.9" font-family="Carlito, 'Liberation Sans', sans-serif" font-size="40.45" fill="#000" textLength="141.8" lengthAdjust="spacingAndGlyphs">planners</text>
<text x="1385.2" y="444.9" font-family="Carlito, 'Liberation Sans', sans-serif" font-size="40.45" fill="#000" textLength="30.5" lengthAdjust="spacingAndGlyphs">in</text>
<text x="1426.7" y="444.9" font-family="Carlito, 'Liberation Sans', sans-serif" font-size="40.45" fill="#000" textLength="119.6" lengthAdjust="spacingAndGlyphs">making</text>
<text x="1557.3" y="444.9" font-family="Carlito, 'Liberation Sans', sans-serif" font-size="40.45" fill="#000" textLength="150.9" lengthAdjust="spacingAndGlyphs">informed</text>
<text x="1719.2" y="444.9" font-family="Carlito, 'Liberation Sans', sans-serif" font-size="40.45" fill="#000" textLength="161.5" lengthAdjust="spacingAndGlyphs">decisions.</text>
<text x="1891.6" y="444.9" font-family="Carlito, 'Liberation Sans', sans-serif" font-size="40.45" fill="#000" textLength="118.1" lengthAdjust="spacingAndGlyphs">Vehicle</text>
<text x="2020.7" y="444.9" font-family="Carlito, 'Liberation Sans', sans-serif" font-size="40.45" fill="#000" textLength="120.8" lengthAdjust="spacingAndGlyphs">loading</text>
<text x="2152.5" y="444.9" font-family="Carlito, 'Liberation Sans', sans-serif" font-size="40.45" fill="#000" textLength="235.2" lengthAdjust="spacingAndGlyphs">characteristics</text>
<text x="2398.6" y="444.9" font-family="Carlito, 'Liberation Sans', sans-serif" font-size="40.45" fill="#000" textLength="53.1" lengthAdjust="spacingAndGlyphs">are</text>
<text x="578.2" y="493.3" font-family="Carlito, 'Liberation Sans', sans-serif" font-size="40.45" fill="#000" textLength="165.1" lengthAdjust="spacingAndGlyphs">important</text>
<text x="753.8" y="493.3" font-family="Carlito, 'Liberation Sans', sans-serif" font-size="40.45" fill="#000" textLength="46.9" lengthAdjust="spacingAndGlyphs">for</text>
<text x="811.2" y="493.3" font-family="Carlito, 'Liberation Sans', sans-serif" font-size="40.45" fill="#000" textLength="75.4" lengthAdjust="spacingAndGlyphs">road</text>
<text x="897.1" y="493.3" font-family="Carlito, 'Liberation Sans', sans-serif" font-size="40.45" fill="#000" textLength="164.8" lengthAdjust="spacingAndGlyphs">pavement</text>
<text x="1072.4" y="493.3" font-family="Carlito, 'Liberation Sans', sans-serif" font-size="40.45" fill="#000" textLength="106.8" lengthAdjust="spacingAndGlyphs">design</text>
<text x="1189.7" y="493.3" font-family="Carlito, 'Liberation Sans', sans-serif" font-size="40.45" fill="#000" textLength="61.9" lengthAdjust="spacingAndGlyphs">and</text>
<text x="1262.0" y="493.3" font-family="Carlito, 'Liberation Sans', sans-serif" font-size="40.45" fill="#000" textLength="224.4" lengthAdjust="spacingAndGlyphs">maintenance.</text>
<text x="1496.9" y="493.3" font-family="Carlito, 'Liberation Sans', sans-serif" font-size="40.45" fill="#000" textLength="61.1" lengthAdjust="spacingAndGlyphs">The</text>
<text x="1568.5" y="493.3" font-family="Carlito, 'Liberation Sans', sans-serif" font-size="40.45" fill="#000" textLength="70.2" lengthAdjust="spacingAndGlyphs">only</text>
<text x="1649.2" y="493.3" font-family="Carlito, 'Liberation Sans', sans-serif" font-size="40.45" fill="#000" textLength="141.1" lengthAdjust="spacingAndGlyphs">effective</text>
<text x="1800.8" y="493.3" font-family="Carlito, 'Liberation Sans', sans-serif" font-size="40.45" fill="#000" textLength="65.4" lengthAdjust="spacingAndGlyphs">way</text>
<text x="1876.7" y="493.3" font-family="Carlito, 'Liberation Sans', sans-serif" font-size="40.45" fill="#000" textLength="34.5" lengthAdjust="spacingAndGlyphs">to</text>
<text x="1921.6" y="493.3" font-family="Carlito, 'Liberation Sans', sans-serif" font-size="40.45" fill="#000" textLength="144.7" lengthAdjust="spacingAndGlyphs">compare</text>
<text x="2076.8" y="493.3" font-family="Carlito, 'Liberation Sans', sans-serif" font-size="40.45" fill="#000" textLength="54.9" lengthAdjust="spacingAndGlyphs">the</text>
<text x="2142.3" y="493.3" font-family="Carlito, 'Liberation Sans', sans-serif" font-size="40.45" fill="#000" textLength="160.9" lengthAdjust="spacingAndGlyphs">damaging</text>
<text x="2313.7" y="493.3" font-family="Carlito, 'Liberation Sans', sans-serif" font-size="40.45" fill="#000" textLength="93.8" lengthAdjust="spacingAndGlyphs">effect</text>
<text x="2418.0" y="493.3" font-family="Carlito, 'Liberation Sans', sans-serif" font-size="40.45" fill="#000" textLength="33.7" lengthAdjust="spacingAndGlyphs">of</text>
<text x="578.2" y="541.8" font-family="Carlito, 'Liberation Sans', sans-serif" font-size="40.45" fill="#000" textLength="96.6" lengthAdjust="spacingAndGlyphs">traffic</text>
<text x="691.9" y="541.8" font-family="Carlito, 'Liberation Sans', sans-serif" font-size="40.45" fill="#000" textLength="42.6" lengthAdjust="spacingAndGlyphs">on</text>
<text x="751.6" y="541.8" font-family="Carlito, 'Liberation Sans', sans-serif" font-size="40.45" fill="#000" textLength="87.6" lengthAdjust="spacingAndGlyphs">given</text>
<text x="856.3" y="541.8" font-family="Carlito, 'Liberation Sans', sans-serif" font-size="40.45" fill="#000" textLength="91.2" lengthAdjust="spacingAndGlyphs">roads</text>
<text x="964.6" y="541.8" font-family="Carlito, 'Liberation Sans', sans-serif" font-size="40.45" fill="#000" textLength="25.1" lengthAdjust="spacingAndGlyphs">is</text>
<text x="1006.8" y="541.8" font-family="Carlito, 'Liberation Sans', sans-serif" font-size="40.45" fill="#000" textLength="34.5" lengthAdjust="spacingAndGlyphs">to</text>
<text x="1058.5" y="541.8" font-family="Carlito, 'Liberation Sans', sans-serif" font-size="40.45" fill="#000" textLength="142.5" lengthAdjust="spacingAndGlyphs">measure</text>
<text x="1218.1" y="541.8" font-family="Carlito, 'Liberation Sans', sans-serif" font-size="40.45" fill="#000" textLength="54.9" lengthAdjust="spacingAndGlyphs">the</text>
<text x="1290.2" y="541.8" font-family="Carlito, 'Liberation Sans', sans-serif" font-size="40.45" fill="#000" textLength="154.1" lengthAdjust="spacingAndGlyphs">complete</text>
<text x="1461.3" y="541.8" font-family="Carlito, 'Liberation Sans', sans-serif" font-size="40.45" fill="#000" textLength="155.5" lengthAdjust="spacingAndGlyphs">spectrum</text>
<text x="1633.9" y="541.8" font-family="Carlito, 'Liberation Sans', sans-serif" font-size="40.45" fill="#000" textLength="33.7" lengthAdjust="spacingAndGlyphs">of</text>
<text x="1684.7" y="541.8" font-family="Carlito, 'Liberation Sans', sans-serif" font-size="40.45" fill="#000" textLength="65.9" lengthAdjust="spacingAndGlyphs">axle</text>
<text x="1767.8" y="541.8" font-family="Carlito, 'Liberation Sans', sans-serif" font-size="40.45" fill="#000" textLength="87.0" lengthAdjust="spacingAndGlyphs">loads</text>
<text x="1871.9" y="541.8" font-family="Carlito, 'Liberation Sans', sans-serif" font-size="40.45" fill="#000" textLength="70.3" lengthAdjust="spacingAndGlyphs">Axle</text>
<text x="1959.4" y="541.8" font-family="Carlito, 'Liberation Sans', sans-serif" font-size="40.45" fill="#000" textLength="79.0" lengthAdjust="spacingAndGlyphs">Load</text>
<text x="2055.4" y="541.8" font-family="Carlito, 'Liberation Sans', sans-serif" font-size="40.45" fill="#000" textLength="125.8" lengthAdjust="spacingAndGlyphs">Surveys</text>
<text x="2198.3" y="541.8" font-family="Carlito, 'Liberation Sans', sans-serif" font-size="40.45" fill="#000" textLength="61.9" lengthAdjust="spacingAndGlyphs">and</text>
<text x="2277.3" y="541.8" font-family="Carlito, 'Liberation Sans', sans-serif" font-size="40.45" fill="#000" textLength="132.1" lengthAdjust="spacingAndGlyphs">Analysis</text>
<text x="2426.6" y="541.8" font-family="Carlito, 'Liberation Sans', sans-serif" font-size="40.45" fill="#000" textLength="25.1" lengthAdjust="spacingAndGlyphs">is</text>
<text x="578.2" y="590.2" font-family="Carlito, 'Liberation Sans', sans-serif" font-size="40.45" fill="#000" textLength="144.2" lengthAdjust="spacingAndGlyphs">essential</text>
<text x="736.3" y="590.2" font-family="Carlito, 'Liberation Sans', sans-serif" font-size="40.45" fill="#000" textLength="34.5" lengthAdjust="spacingAndGlyphs">to</text>
<text x="784.7" y="590.2" font-family="Carlito, 'Liberation Sans', sans-serif" font-size="40.45" fill="#000" textLength="89.2" lengthAdjust="spacingAndGlyphs">assist</text>
<text x="887.8" y="590.2" font-family="Carlito, 'Liberation Sans', sans-serif" font-size="40.45" fill="#000" textLength="30.5" lengthAdjust="spacingAndGlyphs">in</text>
<text x="932.3" y="590.2" font-family="Carlito, 'Liberation Sans', sans-serif" font-size="40.45" fill="#000" textLength="142.0" lengthAdjust="spacingAndGlyphs">planning</text>
<text x="1088.2" y="590.2" font-family="Carlito, 'Liberation Sans', sans-serif" font-size="40.45" fill="#000" textLength="61.9" lengthAdjust="spacingAndGlyphs">and</text>
<text x="1164.0" y="590.2" font-family="Carlito, 'Liberation Sans', sans-serif" font-size="40.45" fill="#000" textLength="54.9" lengthAdjust="spacingAndGlyphs">the</text>
<text x="1232.8" y="590.2" font-family="Carlito, 'Liberation Sans', sans-serif" font-size="40.45" fill="#000" textLength="106.8" lengthAdjust="spacingAndGlyphs">design</text>
<text x="1353.5" y="590.2" font-family="Carlito, 'Liberation Sans', sans-serif" font-size="40.45" fill="#000" textLength="113.6" lengthAdjust="spacingAndGlyphs">phases</text>
<text x="1481.0" y="590.2" font-family="Carlito, 'Liberation Sans', sans-serif" font-size="40.45" fill="#000" textLength="33.7" lengthAdjust="spacingAndGlyphs">of</text>
<text x="1528.6" y="590.2" font-family="Carlito, 'Liberation Sans', sans-serif" font-size="40.45" fill="#000" textLength="101.4" lengthAdjust="spacingAndGlyphs">roads.</text>
<text x="1644.0" y="590.2" font-family="Carlito, 'Liberation Sans', sans-serif" font-size="40.45" fill="#000" textLength="61.1" lengthAdjust="spacingAndGlyphs">The</text>
<text x="1719.0" y="590.2" font-family="Carlito, 'Liberation Sans', sans-serif" font-size="40.45" fill="#000" textLength="128.9" lengthAdjust="spacingAndGlyphs">primary</text>
<text x="1861.8" y="590.2" font-family="Carlito, 'Liberation Sans', sans-serif" font-size="40.45" fill="#000" textLength="150.3" lengthAdjust="spacingAndGlyphs">objective</text>
<text x="2026.0" y="590.2" font-family="Carlito, 'Liberation Sans', sans-serif" font-size="40.45" fill="#000" textLength="33.7" lengthAdjust="spacingAndGlyphs">of</text>
<text x="2073.6" y="590.2" font-family="Carlito, 'Liberation Sans', sans-serif" font-size="40.45" fill="#000" textLength="59.9" lengthAdjust="spacingAndGlyphs">this</text>
<text x="2147.4" y="590.2" font-family="Carlito, 'Liberation Sans', sans-serif" font-size="40.45" fill="#000" textLength="74.7" lengthAdjust="spacingAndGlyphs">pilot</text>
<text x="2236.0" y="590.2" font-family="Carlito, 'Liberation Sans', sans-serif" font-size="40.45" fill="#000" textLength="89.7" lengthAdjust="spacingAndGlyphs">study</text>
<text x="2339.6" y="590.2" font-family="Carlito, 'Liberation Sans', sans-serif" font-size="40.45" fill="#000" textLength="63.6" lengthAdjust="spacingAndGlyphs">was</text>
<text x="2417.2" y="590.2" font-family="Carlito, 'Liberation Sans', sans-serif" font-size="40.45" fill="#000" textLength="34.5" lengthAdjust="spacingAndGlyphs">to</text>
<text x="578.2" y="638.7" font-family="Carlito, 'Liberation Sans', sans-serif" font-size="40.45" fill="#000" textLength="1066.2" lengthAdjust="spacingAndGlyphs">collect the axle load data and analyze the loading pattern on N-5.</text></g>
</svg>


</body></html>
